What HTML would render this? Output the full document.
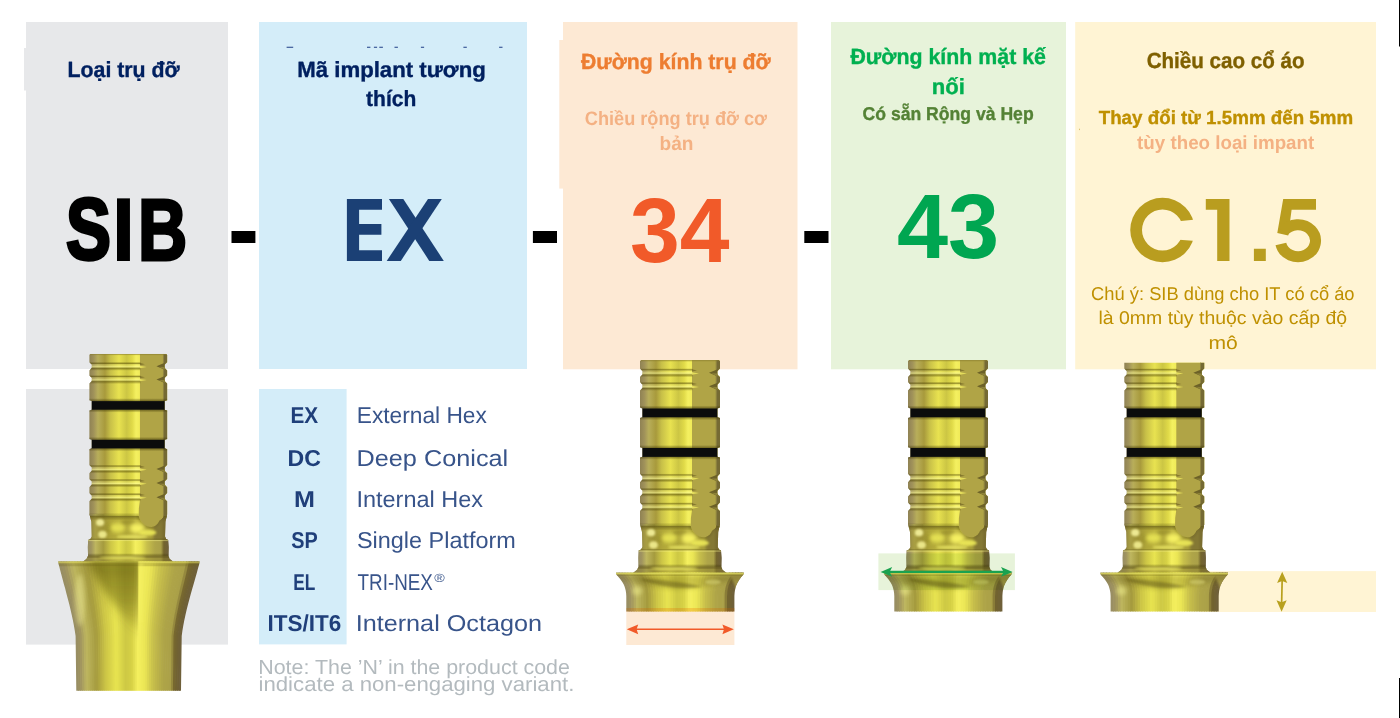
<!DOCTYPE html>
<html><head><meta charset="utf-8"><title>SIB code</title>
<style>
html,body{margin:0;padding:0;background:#fff;}
body{width:1400px;height:718px;position:relative;overflow:hidden;font-family:"Liberation Sans",sans-serif;}
.r{position:absolute;}
.t{position:absolute;white-space:nowrap;line-height:1;transform-origin:0 0;font-family:"Liberation Sans",sans-serif;}
svg{position:absolute;left:0;top:0;}
</style></head><body>

<svg width="1400" height="718" viewBox="0 0 1400 718"><rect x="26" y="22" width="202.00" height="347.00" fill="#e7e8ea"/><rect x="24" y="48" width="2.00" height="42.50" fill="#e7e8ea"/><rect x="26" y="389" width="202.00" height="255.60" fill="#e7e8ea"/><rect x="259" y="22" width="268.00" height="347.00" fill="#d4edf9"/><rect x="259" y="389" width="87.60" height="255.40" fill="#d4edf9"/><rect x="563" y="22" width="234.50" height="347.30" fill="#fde9d4"/><rect x="559.3" y="40" width="3.70" height="148.60" fill="#fde9d4"/><rect x="831" y="22" width="235.00" height="347.30" fill="#e7f3da"/><rect x="1075.2" y="22" width="300.80" height="347.30" fill="#fff4d4"/><rect x="1079" y="128.7" width="1.00" height="1.40" fill="#dcc473"/><rect x="1399" y="0" width="1.00" height="46.50" fill="#000"/><rect x="1399" y="678" width="1.00" height="40.00" fill="#000"/><rect x="231.5" y="231" width="23.90" height="12.00" fill="#000"/><rect x="532.9" y="231" width="24.10" height="12.00" fill="#000"/><rect x="804.3" y="231" width="24.20" height="12.00" fill="#000"/><rect x="286.6" y="46.7" width="6.60" height="1.20" fill="#3c5a98"/><rect x="367" y="46.7" width="3.40" height="1.20" fill="#3c5a98"/><rect x="373.9" y="46.7" width="3.20" height="1.20" fill="#3c5a98"/><rect x="379.3" y="46.7" width="3.60" height="1.20" fill="#3c5a98"/><rect x="394.5" y="46.7" width="3.40" height="1.20" fill="#3c5a98"/><rect x="420.9" y="46.7" width="3.20" height="1.20" fill="#3c5a98"/><rect x="463.4" y="46.7" width="3.40" height="1.20" fill="#3c5a98"/><rect x="499.1" y="46.7" width="3.40" height="1.20" fill="#3c5a98"/></svg>
<svg width="1400" height="718" viewBox="0 0 1400 718"><defs><linearGradient id="gc" gradientUnits="userSpaceOnUse" x1="0" y1="0" x2="80" y2="0"><stop offset="0.000" stop-color="#8f8254"/><stop offset="0.055" stop-color="#a0925a"/><stop offset="0.110" stop-color="#b8ae5a"/><stop offset="0.200" stop-color="#a89a3c"/><stop offset="0.270" stop-color="#c8c048"/><stop offset="0.380" stop-color="#e8e250"/><stop offset="0.480" stop-color="#ccc644"/><stop offset="0.550" stop-color="#e0da48"/><stop offset="0.600" stop-color="#f4f060"/><stop offset="0.650" stop-color="#f0ea58"/></linearGradient><linearGradient id="gr" gradientUnits="userSpaceOnUse" x1="-2" y1="0" x2="82" y2="0"><stop offset="0.000" stop-color="#968c64"/><stop offset="0.045" stop-color="#a0945f"/><stop offset="0.100" stop-color="#beb65f"/><stop offset="0.194" stop-color="#a59b3e"/><stop offset="0.284" stop-color="#cdc646"/><stop offset="0.383" stop-color="#e8e450"/><stop offset="0.473" stop-color="#cdc844"/><stop offset="0.530" stop-color="#d7d246"/><stop offset="0.588" stop-color="#f5f05f"/><stop offset="0.654" stop-color="#ebe655"/><stop offset="0.728" stop-color="#c8c04b"/><stop offset="0.827" stop-color="#afa548"/><stop offset="0.900" stop-color="#aaa048"/><stop offset="0.935" stop-color="#73642d"/><stop offset="1.000" stop-color="#6e5f3c"/></linearGradient><linearGradient id="gg" x1="0" y1="0" x2="0" y2="1"><stop offset="0" stop-color="#4a4000" stop-opacity="0"/><stop offset="0.18" stop-color="#4a4000" stop-opacity="0.55"/><stop offset="0.36" stop-color="#ffffa0" stop-opacity="0.15"/><stop offset="0.55" stop-color="#ffffa0" stop-opacity="0.55"/><stop offset="0.74" stop-color="#4a4000" stop-opacity="0.5"/><stop offset="1" stop-color="#4a4000" stop-opacity="0"/></linearGradient><linearGradient id="gs" x1="0" y1="0" x2="0" y2="1"><stop offset="0" stop-color="#3a3200" stop-opacity="0"/><stop offset="1" stop-color="#3a3200" stop-opacity="0.55"/></linearGradient><linearGradient id="gs2" x1="0" y1="0" x2="0" y2="1"><stop offset="0" stop-color="#3a3200" stop-opacity="0.55"/><stop offset="1" stop-color="#3a3200" stop-opacity="0"/></linearGradient><filter id="b1" x="-30%" y="-30%" width="160%" height="160%"><feGaussianBlur stdDeviation="1.2"/></filter><filter id="b2" x="-30%" y="-30%" width="160%" height="160%"><feGaussianBlur stdDeviation="2.2"/></filter><filter id="b3" x="-50%" y="-50%" width="200%" height="200%"><feGaussianBlur stdDeviation="7"/></filter><filter id="b4" x="-50%" y="-50%" width="200%" height="200%"><feGaussianBlur stdDeviation="4"/></filter><linearGradient id="gw" gradientUnits="userSpaceOnUse" x1="0" y1="560" x2="0" y2="640"><stop offset="0" stop-color="#4a4208" stop-opacity="0.6"/><stop offset="0.5" stop-color="#4a4208" stop-opacity="0.4"/><stop offset="1" stop-color="#4a4208" stop-opacity="0"/></linearGradient><clipPath id="cs"><path d="M78.8 0L80 1.2L80 9.3L80 8.600000000000001L77.4 11.200000000000001L77.4 14.4L80 17.0L80 22.1L77.4 24.7L77.4 27.900000000000002L80 30.5L80 47.6L77.4 48.4L77.4 57.2L80 58L80 87.2L77.4 88L77.4 96.8L80 97.6L80 113.8L77.4 116.4L77.4 119.6L80 122.2L80 128.10000000000002L77.4 130.70000000000002L77.4 133.9L80 136.5L80 142.60000000000002L77.4 145.20000000000002L77.4 148.4L80 151.0L80 164L78.2 172L77.8 187L79 189.5L81 190.5L81.5 198L81.3 206.7L82.5 209.8L86 212.5L86 216L-6.5 216L-6.5 212.5L-3 209.8L-1.4 206.7L-1.6 198L-1.3 190.5L1 189.5L2.4 187L2 172L0 164L0 151.0L2.4 148.4L2.4 145.20000000000002L0 142.60000000000002L0 136.5L2.4 133.9L2.4 130.70000000000002L0 128.10000000000002L0 122.2L2.4 119.6L2.4 116.4L0 113.8L0 97.6L2.4 96.8L2.4 88L0 87.2L0 58L2.4 57.2L2.4 48.4L0 47.6L0 30.5L2.4 27.900000000000002L2.4 24.7L0 22.1L0 17.0L2.4 14.4L2.4 11.200000000000001L0 8.600000000000001L0 9.3L0 1.2L1.2 0Z"/></clipPath><g id="up"><g clip-path="url(#cs)"><rect x="-8" y="0" width="96" height="166" fill="url(#gc)"/><rect x="-8" y="164" width="96" height="54" fill="url(#gr)"/><path d="M52 0H76.7V165C76.5 168 74 169.5 72 171C70.5 175 67 177.5 63.5 177.3C58 177 52.5 173 50.7 166L50.9 158L52 150Z" fill="#b0a446"/><path d="M76.2 0H82V170H78.5L76.2 166Z" fill="#756a34"/><path d="M76.2 0V165" stroke="#8f8440" stroke-width="1" fill="none"/><rect x="-2" y="8.2" width="54.5" height="9.2" fill="url(#gg)"/><path d="M52 12.2L59 13.4L52 14.7Z" fill="#f0ea60" opacity="0.8"/><path d="M52 9.2L57 10.6L52 11.6Z" fill="#6a5e20" opacity="0.6"/><path d="M69 12.8L77.6 9.2V16.4Z" fill="#6c6128"/><path d="M71.5 13.2L77.6 13.4V16.4Z" fill="#8d8238"/><rect x="-2" y="21.7" width="54.5" height="9.2" fill="url(#gg)"/><path d="M52 25.7L59 26.9L52 28.2Z" fill="#f0ea60" opacity="0.8"/><path d="M52 22.7L57 24.1L52 25.1Z" fill="#6a5e20" opacity="0.6"/><path d="M69 26.3L77.6 22.7V29.9Z" fill="#6c6128"/><path d="M71.5 26.7L77.6 26.9V29.9Z" fill="#8d8238"/><rect x="-2" y="113.4" width="54.5" height="9.2" fill="url(#gg)"/><path d="M52 117.4L59 118.6L52 119.9Z" fill="#f0ea60" opacity="0.8"/><path d="M52 114.4L57 115.8L52 116.8Z" fill="#6a5e20" opacity="0.6"/><path d="M69 118.0L77.6 114.4V121.6Z" fill="#6c6128"/><path d="M71.5 118.4L77.6 118.6V121.6Z" fill="#8d8238"/><rect x="-2" y="127.7" width="54.5" height="9.2" fill="url(#gg)"/><path d="M52 131.7L59 132.9L52 134.2Z" fill="#f0ea60" opacity="0.8"/><path d="M52 128.7L57 130.1L52 131.1Z" fill="#6a5e20" opacity="0.6"/><path d="M69 132.3L77.6 128.7V135.9Z" fill="#6c6128"/><path d="M71.5 132.7L77.6 132.9V135.9Z" fill="#8d8238"/><rect x="-2" y="142.2" width="54.5" height="9.2" fill="url(#gg)"/><path d="M52 146.2L59 147.4L52 148.7Z" fill="#f0ea60" opacity="0.8"/><path d="M52 143.2L57 144.6L52 145.6Z" fill="#6a5e20" opacity="0.6"/><path d="M69 146.8L77.6 143.2V150.4Z" fill="#6c6128"/><path d="M71.5 147.2L77.6 147.4V150.4Z" fill="#8d8238"/><rect x="-2" y="0" width="84" height="1.3" fill="#8a7e30" opacity="0.55"/><rect x="-2" y="45.4" width="84" height="3" fill="url(#gs)"/><rect x="-2" y="57.2" width="84" height="3" fill="url(#gs2)"/><rect x="-2" y="48.4" width="84" height="8.9" fill="#0b0c0c"/><rect x="-2" y="85" width="84" height="3" fill="url(#gs)"/><rect x="-2" y="96.8" width="84" height="3" fill="url(#gs2)"/><rect x="-2" y="88" width="84" height="8.9" fill="#0b0c0c"/><rect x="-2" y="162.5" width="52.6" height="3.5" fill="url(#gs)" opacity="0.6"/><clipPath id="cn"><path d="M-4 166H50.7C52.5 173 58 177 63.5 177.3C67 177.5 70.5 175 72 171C74 169.5 76.5 168 76.7 166H84V191H-4Z"/></clipPath><g clip-path="url(#cn)"><rect x="-4" y="166" width="90" height="25" fill="#9a8e30" opacity="0.6"/><rect x="-4" y="166" width="90" height="4.5" fill="url(#gs2)" opacity="0.85"/><path d="M50.7 166C52.5 173 58 177 63.5 177.3C67 177.5 70.5 175 72 171C74 169.5 76.5 168 76.7 166" stroke="#5a5010" stroke-width="2.5" fill="none" opacity="0.35" filter="url(#b1)"/><rect x="66" y="166" width="20" height="25" fill="#6e6230" opacity="0.55" filter="url(#b1)"/><rect x="-4" y="166" width="6" height="25" fill="#6e6230" opacity="0.35" filter="url(#b1)"/><ellipse cx="11" cy="172.7" rx="4.2" ry="3.6" fill="#f2ee98" filter="url(#b1)" opacity="0.95"/><ellipse cx="13.5" cy="185" rx="4.4" ry="3.8" fill="#efea8c" filter="url(#b1)" opacity="0.95"/><ellipse cx="20.5" cy="178.5" rx="3" ry="4" fill="#8c8228" filter="url(#b1)" opacity="0.45"/><ellipse cx="29" cy="178" rx="8" ry="4.6" fill="#e8e455" filter="url(#b2)" opacity="0.95"/><ellipse cx="40" cy="172.5" rx="7" ry="2.6" fill="#8c8228" filter="url(#b1)" opacity="0.4"/><ellipse cx="49" cy="178.6" rx="7.5" ry="5" fill="#f6f162" filter="url(#b2)" opacity="1"/><ellipse cx="60" cy="183" rx="9" ry="3" fill="#ece858" filter="url(#b1)" opacity="0.9"/><ellipse cx="44" cy="187.3" rx="16" ry="1.8" fill="#ece866" filter="url(#b1)" opacity="0.8"/></g><rect x="-3" y="188.5" width="88" height="2" fill="url(#gs)" opacity="0.7"/><rect x="-4" y="190.5" width="90" height="16.2" fill="url(#gr)"/><rect x="-4" y="190.5" width="90" height="1.2" fill="#f4f08a" opacity="0.45"/><rect x="-4" y="204" width="90" height="2.7" fill="url(#gs)" opacity="0.8"/><rect x="-8" y="206.7" width="96" height="11" fill="#8c8030" opacity="0.5"/><rect x="-8" y="206.7" width="96" height="2" fill="#4a4010" opacity="0.35"/><ellipse cx="34" cy="208.5" rx="24" ry="1.6" fill="#e8e460" filter="url(#b1)" opacity="0.8"/></g></g></defs><defs><g id="sc"><path d="M-24.0 212.5L-24.0 213.4L-23.8 214.0L-23.6 214.5L-23.3 215.0L-22.4 216.0L-21.5 217.1L-20.4 218.3L-19.4 219.6L-18.4 221.0L-17.4 222.5L-16.4 224.2L-15.6 226.1L-14.9 228.2L-14.3 230.6L-13.9 233.1L-13.7 236.0L-13.7 251.6L-10.5 251.6L-10.5 236.0L-10.7 233.1L-11.1 230.6L-11.7 228.2L-12.4 226.1L-13.2 224.2L-14.1 222.5L-15.0 221.0L-16.0 219.6L-17.0 218.3L-18.0 217.1L-18.9 216.0L-19.7 215.0L-20.0 214.5L-20.2 214.0L-20.4 213.4L-20.4 212.5Z" fill="#998e63"/><path d="M-21.1 212.5L-21.1 213.4L-20.9 214.0L-20.7 214.5L-20.4 215.0L-19.6 216.0L-18.7 217.1L-17.7 218.3L-16.7 219.6L-15.7 221.0L-14.8 222.5L-13.9 224.2L-13.1 226.1L-12.4 228.2L-11.8 230.6L-11.4 233.1L-11.2 236.0L-11.2 251.6L-8.1 251.6L-8.1 236.0L-8.3 233.1L-8.6 230.6L-9.2 228.2L-9.8 226.1L-10.6 224.2L-11.4 222.5L-12.4 221.0L-13.3 219.6L-14.3 218.3L-15.2 217.1L-16.1 216.0L-16.9 215.0L-17.2 214.5L-17.3 214.0L-17.5 213.4L-17.5 212.5Z" fill="#9e9260"/><path d="M-18.2 212.5L-18.2 213.4L-18.0 214.0L-17.9 214.5L-17.6 215.0L-16.8 216.0L-15.9 217.1L-15.0 218.3L-14.0 219.6L-13.1 221.0L-12.1 222.5L-11.3 224.2L-10.5 226.1L-9.9 228.2L-9.3 230.6L-9.0 233.1L-8.8 236.0L-8.8 251.6L-5.6 251.6L-5.6 236.0L-5.8 233.1L-6.1 230.6L-6.6 228.2L-7.3 226.1L-8.0 224.2L-8.8 222.5L-9.7 221.0L-10.6 219.6L-11.5 218.3L-12.4 217.1L-13.2 216.0L-14.0 215.0L-14.3 214.5L-14.5 214.0L-14.6 213.4L-14.6 212.5Z" fill="#a69b5f"/><path d="M-15.3 212.5L-15.3 213.4L-15.2 214.0L-15.0 214.5L-14.7 215.0L-13.9 216.0L-13.1 217.1L-12.2 218.3L-11.3 219.6L-10.4 221.0L-9.5 222.5L-8.7 224.2L-8.0 226.1L-7.3 228.2L-6.8 230.6L-6.5 233.1L-6.3 236.0L-6.3 251.6L-3.2 251.6L-3.2 236.0L-3.3 233.1L-3.7 230.6L-4.1 228.2L-4.7 226.1L-5.4 224.2L-6.2 222.5L-7.1 221.0L-7.9 219.6L-8.8 218.3L-9.6 217.1L-10.4 216.0L-11.1 215.0L-11.4 214.5L-11.6 214.0L-11.7 213.4L-11.7 212.5Z" fill="#b3a95f"/><path d="M-12.4 212.5L-12.4 213.4L-12.3 214.0L-12.1 214.5L-11.8 215.0L-11.1 216.0L-10.3 217.1L-9.5 218.3L-8.6 219.6L-7.8 221.0L-6.9 222.5L-6.1 224.2L-5.4 226.1L-4.8 228.2L-4.4 230.6L-4.0 233.1L-3.9 236.0L-3.9 251.6L-0.7 251.6L-0.7 236.0L-0.9 233.1L-1.2 230.6L-1.6 228.2L-2.2 226.1L-2.9 224.2L-3.6 222.5L-4.4 221.0L-5.2 219.6L-6.0 218.3L-6.8 217.1L-7.6 216.0L-8.2 215.0L-8.5 214.5L-8.7 214.0L-8.8 213.4L-8.8 212.5Z" fill="#bdb55e"/><path d="M-9.5 212.5L-9.5 213.4L-9.4 214.0L-9.2 214.5L-8.9 215.0L-8.3 216.0L-7.5 217.1L-6.7 218.3L-5.9 219.6L-5.1 221.0L-4.3 222.5L-3.6 224.2L-2.9 226.1L-2.3 228.2L-1.9 230.6L-1.6 233.1L-1.4 236.0L-1.4 251.6L1.7 251.6L1.7 236.0L1.6 233.1L1.3 230.6L0.9 228.2L0.3 226.1L-0.3 224.2L-1.0 222.5L-1.7 221.0L-2.5 219.6L-3.3 218.3L-4.0 217.1L-4.7 216.0L-5.4 215.0L-5.6 214.5L-5.8 214.0L-5.9 213.4L-5.9 212.5Z" fill="#b7af56"/><path d="M-6.6 212.5L-6.6 213.4L-6.5 214.0L-6.3 214.5L-6.1 215.0L-5.4 216.0L-4.7 217.1L-4.0 218.3L-3.2 219.6L-2.4 221.0L-1.7 222.5L-1.0 224.2L-0.4 226.1L0.2 228.2L0.6 230.6L0.9 233.1L1.0 236.0L1.0 251.6L4.2 251.6L4.2 236.0L4.1 233.1L3.8 230.6L3.4 228.2L2.9 226.1L2.3 224.2L1.6 222.5L0.9 221.0L0.2 219.6L-0.5 218.3L-1.2 217.1L-1.9 216.0L-2.5 215.0L-2.7 214.5L-2.9 214.0L-3.0 213.4L-3.0 212.5Z" fill="#b1a84e"/><path d="M-3.7 212.5L-3.7 213.4L-3.6 214.0L-3.4 214.5L-3.2 215.0L-2.6 216.0L-1.9 217.1L-1.2 218.3L-0.5 219.6L0.2 221.0L0.9 222.5L1.6 224.2L2.2 226.1L2.7 228.2L3.1 230.6L3.4 233.1L3.5 236.0L3.5 251.6L6.7 251.6L6.7 236.0L6.5 233.1L6.3 230.6L5.9 228.2L5.4 226.1L4.8 224.2L4.2 222.5L3.6 221.0L2.9 219.6L2.2 218.3L1.5 217.1L0.9 216.0L0.4 215.0L0.2 214.5L0.0 214.0L-0.1 213.4L-0.1 212.5Z" fill="#aba246"/><path d="M-0.8 212.5L-0.8 213.4L-0.7 214.0L-0.5 214.5L-0.3 215.0L0.2 216.0L0.8 217.1L1.5 218.3L2.2 219.6L2.9 221.0L3.5 222.5L4.1 224.2L4.7 226.1L5.2 228.2L5.6 230.6L5.8 233.1L6.0 236.0L6.0 251.6L9.1 251.6L9.1 236.0L9.0 233.1L8.7 230.6L8.4 228.2L7.9 226.1L7.4 224.2L6.8 222.5L6.2 221.0L5.6 219.6L5.0 218.3L4.3 217.1L3.8 216.0L3.2 215.0L3.0 214.5L2.9 214.0L2.8 213.4L2.8 212.5Z" fill="#a59b3e"/><path d="M2.1 212.5L2.1 213.4L2.2 214.0L2.3 214.5L2.5 215.0L3.1 216.0L3.6 217.1L4.3 218.3L4.9 219.6L5.5 221.0L6.1 222.5L6.7 224.2L7.2 226.1L7.7 228.2L8.0 230.6L8.3 233.1L8.4 236.0L8.4 251.6L11.6 251.6L11.6 236.0L11.5 233.1L11.2 230.6L10.9 228.2L10.5 226.1L10.0 224.2L9.4 222.5L8.9 221.0L8.3 219.6L7.7 218.3L7.1 217.1L6.6 216.0L6.1 215.0L5.9 214.5L5.8 214.0L5.7 213.4L5.7 212.5Z" fill="#afa540"/><path d="M5.0 212.5L5.0 213.4L5.1 214.0L5.2 214.5L5.4 215.0L5.9 216.0L6.4 217.1L7.0 218.3L7.6 219.6L8.2 221.0L8.8 222.5L9.3 224.2L9.8 226.1L10.2 228.2L10.5 230.6L10.8 233.1L10.9 236.0L10.9 251.6L14.0 251.6L14.0 236.0L13.9 233.1L13.7 230.6L13.4 228.2L13.0 226.1L12.6 224.2L12.1 222.5L11.5 221.0L11.0 219.6L10.4 218.3L9.9 217.1L9.4 216.0L9.0 215.0L8.8 214.5L8.7 214.0L8.6 213.4L8.6 212.5Z" fill="#b9b042"/><path d="M7.9 212.5L7.9 213.4L8.0 214.0L8.1 214.5L8.3 215.0L8.7 216.0L9.2 217.1L9.7 218.3L10.3 219.6L10.8 221.0L11.4 222.5L11.9 224.2L12.3 226.1L12.7 228.2L13.0 230.6L13.2 233.1L13.3 236.0L13.3 251.6L16.5 251.6L16.5 236.0L16.4 233.1L16.2 230.6L15.9 228.2L15.6 226.1L15.1 224.2L14.7 222.5L14.2 221.0L13.7 219.6L13.2 218.3L12.7 217.1L12.2 216.0L11.8 215.0L11.7 214.5L11.6 214.0L11.5 213.4L11.5 212.5Z" fill="#c3bb44"/><path d="M10.8 212.5L10.8 213.4L10.9 214.0L11.0 214.5L11.1 215.0L11.5 216.0L12.0 217.1L12.5 218.3L13.0 219.6L13.5 221.0L14.0 222.5L14.4 224.2L14.9 226.1L15.2 228.2L15.5 230.6L15.7 233.1L15.8 236.0L15.8 251.6L18.9 251.6L18.9 236.0L18.9 233.1L18.7 230.6L18.4 228.2L18.1 226.1L17.7 224.2L17.3 222.5L16.8 221.0L16.4 219.6L15.9 218.3L15.5 217.1L15.1 216.0L14.7 215.0L14.6 214.5L14.5 214.0L14.4 213.4L14.4 212.5Z" fill="#cdc646"/><path d="M13.7 212.5L13.7 213.4L13.8 214.0L13.9 214.5L14.0 215.0L14.4 216.0L14.8 217.1L15.2 218.3L15.7 219.6L16.1 221.0L16.6 222.5L17.0 224.2L17.4 226.1L17.7 228.2L18.0 230.6L18.2 233.1L18.2 236.0L18.2 251.6L21.4 251.6L21.4 236.0L21.3 233.1L21.2 230.6L20.9 228.2L20.6 226.1L20.3 224.2L19.9 222.5L19.5 221.0L19.1 219.6L18.7 218.3L18.3 217.1L17.9 216.0L17.6 215.0L17.5 214.5L17.4 214.0L17.3 213.4L17.3 212.5Z" fill="#d3cd48"/><path d="M16.6 212.5L16.6 213.4L16.7 214.0L16.8 214.5L16.9 215.0L17.2 216.0L17.6 217.1L18.0 218.3L18.4 219.6L18.8 221.0L19.2 222.5L19.6 224.2L19.9 226.1L20.2 228.2L20.5 230.6L20.6 233.1L20.7 236.0L20.7 251.6L23.9 251.6L23.9 236.0L23.8 233.1L23.6 230.6L23.4 228.2L23.2 226.1L22.9 224.2L22.5 222.5L22.2 221.0L21.8 219.6L21.4 218.3L21.1 217.1L20.7 216.0L20.5 215.0L20.4 214.5L20.3 214.0L20.2 213.4L20.2 212.5Z" fill="#d9d44b"/><path d="M19.5 212.5L19.5 213.4L19.6 214.0L19.7 214.5L19.8 215.0L20.0 216.0L20.4 217.1L20.7 218.3L21.1 219.6L21.5 221.0L21.8 222.5L22.2 224.2L22.5 226.1L22.7 228.2L22.9 230.6L23.1 233.1L23.2 236.0L23.2 251.6L26.3 251.6L26.3 236.0L26.3 233.1L26.1 230.6L25.9 228.2L25.7 226.1L25.4 224.2L25.1 222.5L24.8 221.0L24.5 219.6L24.2 218.3L23.9 217.1L23.6 216.0L23.3 215.0L23.2 214.5L23.2 214.0L23.1 213.4L23.1 212.5Z" fill="#e0db4d"/><path d="M22.4 212.5L22.4 213.4L22.5 214.0L22.5 214.5L22.6 215.0L22.9 216.0L23.2 217.1L23.5 218.3L23.8 219.6L24.1 221.0L24.4 222.5L24.7 224.2L25.0 226.1L25.2 228.2L25.4 230.6L25.6 233.1L25.6 236.0L25.6 251.6L28.8 251.6L28.8 236.0L28.7 233.1L28.6 230.6L28.4 228.2L28.2 226.1L28.0 224.2L27.7 222.5L27.5 221.0L27.2 219.6L26.9 218.3L26.6 217.1L26.4 216.0L26.2 215.0L26.1 214.5L26.1 214.0L26.0 213.4L26.0 212.5Z" fill="#e6e24f"/><path d="M25.3 212.5L25.3 213.4L25.4 214.0L25.4 214.5L25.5 215.0L25.7 216.0L25.9 217.1L26.2 218.3L26.5 219.6L26.8 221.0L27.0 222.5L27.3 224.2L27.5 226.1L27.7 228.2L27.9 230.6L28.0 233.1L28.1 236.0L28.1 251.6L31.2 251.6L31.2 236.0L31.2 233.1L31.1 230.6L30.9 228.2L30.8 226.1L30.6 224.2L30.4 222.5L30.1 221.0L29.9 219.6L29.7 218.3L29.4 217.1L29.2 216.0L29.1 215.0L29.0 214.5L29.0 214.0L28.9 213.4L28.9 212.5Z" fill="#e4df4e"/><path d="M28.2 212.5L28.2 213.4L28.3 214.0L28.3 214.5L28.4 215.0L28.5 216.0L28.7 217.1L29.0 218.3L29.2 219.6L29.4 221.0L29.7 222.5L29.9 224.2L30.1 226.1L30.2 228.2L30.4 230.6L30.5 233.1L30.5 236.0L30.5 251.6L33.7 251.6L33.7 236.0L33.6 233.1L33.6 230.6L33.5 228.2L33.3 226.1L33.1 224.2L33.0 222.5L32.8 221.0L32.6 219.6L32.4 218.3L32.2 217.1L32.1 216.0L31.9 215.0L31.9 214.5L31.9 214.0L31.8 213.4L31.8 212.5Z" fill="#ddd84b"/><path d="M31.1 212.5L31.1 213.4L31.2 214.0L31.2 214.5L31.2 215.0L31.4 216.0L31.5 217.1L31.7 218.3L31.9 219.6L32.1 221.0L32.3 222.5L32.4 224.2L32.6 226.1L32.8 228.2L32.9 230.6L32.9 233.1L33.0 236.0L33.0 251.6L36.1 251.6L36.1 236.0L36.1 233.1L36.0 230.6L36.0 228.2L35.8 226.1L35.7 224.2L35.6 222.5L35.4 221.0L35.3 219.6L35.1 218.3L35.0 217.1L34.9 216.0L34.8 215.0L34.8 214.5L34.8 214.0L34.7 213.4L34.7 212.5Z" fill="#d6d148"/><path d="M34.0 212.5L34.0 213.4L34.1 214.0L34.1 214.5L34.1 215.0L34.2 216.0L34.3 217.1L34.4 218.3L34.6 219.6L34.7 221.0L34.9 222.5L35.0 224.2L35.1 226.1L35.3 228.2L35.3 230.6L35.4 233.1L35.4 236.0L35.4 251.6L38.6 251.6L38.6 236.0L38.6 233.1L38.5 230.6L38.5 228.2L38.4 226.1L38.3 224.2L38.2 222.5L38.1 221.0L38.0 219.6L37.9 218.3L37.8 217.1L37.7 216.0L37.7 215.0L37.7 214.5L37.7 214.0L37.6 213.4L37.6 212.5Z" fill="#cfca45"/><path d="M36.9 212.5L36.9 213.4L37.0 214.0L37.0 214.5L37.0 215.0L37.0 216.0L37.1 217.1L37.2 218.3L37.3 219.6L37.4 221.0L37.5 222.5L37.6 224.2L37.7 226.1L37.8 228.2L37.8 230.6L37.9 233.1L37.9 236.0L37.9 251.6L41.1 251.6L41.1 236.0L41.0 233.1L41.0 230.6L41.0 228.2L40.9 226.1L40.9 224.2L40.8 222.5L40.7 221.0L40.7 219.6L40.6 218.3L40.6 217.1L40.6 216.0L40.5 215.0L40.5 214.5L40.5 214.0L40.6 213.4L40.6 212.5Z" fill="#d0cb45"/><path d="M39.9 212.5L39.9 213.4L39.8 214.0L39.8 214.5L39.8 215.0L39.9 216.0L39.9 217.1L39.9 218.3L40.0 219.6L40.0 221.0L40.1 222.5L40.2 224.2L40.2 226.1L40.3 228.2L40.3 230.6L40.3 233.1L40.4 236.0L40.4 251.6L43.5 251.6L43.5 236.0L43.5 233.1L43.5 230.6L43.5 228.2L43.5 226.1L43.4 224.2L43.4 222.5L43.4 221.0L43.4 219.6L43.4 218.3L43.4 217.1L43.4 216.0L43.4 215.0L43.4 214.5L43.4 214.0L43.5 213.4L43.5 212.5Z" fill="#d4cf45"/><path d="M42.8 212.5L42.8 213.4L42.7 214.0L42.7 214.5L42.7 215.0L42.7 216.0L42.7 217.1L42.7 218.3L42.7 219.6L42.7 221.0L42.7 222.5L42.7 224.2L42.8 226.1L42.8 228.2L42.8 230.6L42.8 233.1L42.8 236.0L42.8 251.6L46.0 251.6L46.0 236.0L46.0 233.1L46.0 230.6L46.0 228.2L46.0 226.1L46.0 224.2L46.0 222.5L46.0 221.0L46.1 219.6L46.1 218.3L46.2 217.1L46.2 216.0L46.3 215.0L46.3 214.5L46.3 214.0L46.4 213.4L46.4 212.5Z" fill="#d9d448"/><path d="M45.7 212.5L45.7 213.4L45.6 214.0L45.6 214.5L45.6 215.0L45.5 216.0L45.5 217.1L45.4 218.3L45.4 219.6L45.3 221.0L45.3 222.5L45.3 224.2L45.3 226.1L45.3 228.2L45.3 230.6L45.3 233.1L45.3 236.0L45.3 251.6L48.4 251.6L48.4 236.0L48.4 233.1L48.5 230.6L48.5 228.2L48.5 226.1L48.6 224.2L48.6 222.5L48.7 221.0L48.8 219.6L48.9 218.3L49.0 217.1L49.1 216.0L49.2 215.0L49.2 214.5L49.2 214.0L49.3 213.4L49.3 212.5Z" fill="#e5e052"/><path d="M48.6 212.5L48.6 213.4L48.5 214.0L48.5 214.5L48.5 215.0L48.4 216.0L48.3 217.1L48.2 218.3L48.1 219.6L48.0 221.0L47.9 222.5L47.9 224.2L47.8 226.1L47.8 228.2L47.8 230.6L47.7 233.1L47.7 236.0L47.7 251.6L50.9 251.6L50.9 236.0L50.9 233.1L50.9 230.6L51.0 228.2L51.1 226.1L51.2 224.2L51.3 222.5L51.4 221.0L51.5 219.6L51.6 218.3L51.7 217.1L51.9 216.0L52.0 215.0L52.1 214.5L52.1 214.0L52.2 213.4L52.2 212.5Z" fill="#f1ec5b"/><path d="M51.5 212.5L51.5 213.4L51.4 214.0L51.4 214.5L51.3 215.0L51.2 216.0L51.0 217.1L50.9 218.3L50.8 219.6L50.7 221.0L50.6 222.5L50.5 224.2L50.4 226.1L50.3 228.2L50.2 230.6L50.2 233.1L50.2 236.0L50.2 251.6L53.3 251.6L53.3 236.0L53.4 233.1L53.4 230.6L53.5 228.2L53.6 226.1L53.7 224.2L53.9 222.5L54.0 221.0L54.2 219.6L54.4 218.3L54.5 217.1L54.7 216.0L54.9 215.0L55.0 214.5L55.0 214.0L55.1 213.4L55.1 212.5Z" fill="#f3ee5d"/><path d="M54.4 212.5L54.4 213.4L54.3 214.0L54.3 214.5L54.2 215.0L54.0 216.0L53.8 217.1L53.7 218.3L53.5 219.6L53.3 221.0L53.2 222.5L53.0 224.2L52.9 226.1L52.8 228.2L52.7 230.6L52.7 233.1L52.6 236.0L52.6 251.6L55.8 251.6L55.8 236.0L55.8 233.1L55.9 230.6L56.0 228.2L56.1 226.1L56.3 224.2L56.5 222.5L56.7 221.0L56.9 219.6L57.1 218.3L57.3 217.1L57.5 216.0L57.8 215.0L57.9 214.5L57.9 214.0L58.0 213.4L58.0 212.5Z" fill="#efea59"/><path d="M57.3 212.5L57.3 213.4L57.2 214.0L57.2 214.5L57.1 215.0L56.8 216.0L56.6 217.1L56.4 218.3L56.2 219.6L56.0 221.0L55.8 222.5L55.6 224.2L55.4 226.1L55.3 228.2L55.2 230.6L55.1 233.1L55.1 236.0L55.1 251.6L58.2 251.6L58.2 236.0L58.3 233.1L58.4 230.6L58.5 228.2L58.7 226.1L58.9 224.2L59.1 222.5L59.3 221.0L59.6 219.6L59.8 218.3L60.1 217.1L60.4 216.0L60.6 215.0L60.7 214.5L60.8 214.0L60.9 213.4L60.9 212.5Z" fill="#ece756"/><path d="M60.2 212.5L60.2 213.4L60.1 214.0L60.0 214.5L59.9 215.0L59.7 216.0L59.4 217.1L59.1 218.3L58.9 219.6L58.6 221.0L58.4 222.5L58.2 224.2L58.0 226.1L57.8 228.2L57.7 230.6L57.6 233.1L57.5 236.0L57.5 251.6L60.7 251.6L60.7 236.0L60.8 233.1L60.9 230.6L61.0 228.2L61.2 226.1L61.4 224.2L61.7 222.5L62.0 221.0L62.3 219.6L62.6 218.3L62.9 217.1L63.2 216.0L63.5 215.0L63.6 214.5L63.7 214.0L63.8 213.4L63.8 212.5Z" fill="#e3de53"/><path d="M63.1 212.5L63.1 213.4L63.0 214.0L62.9 214.5L62.8 215.0L62.5 216.0L62.2 217.1L61.9 218.3L61.6 219.6L61.3 221.0L61.0 222.5L60.7 224.2L60.5 226.1L60.3 228.2L60.2 230.6L60.1 233.1L60.0 236.0L60.0 251.6L63.2 251.6L63.2 236.0L63.2 233.1L63.3 230.6L63.5 228.2L63.8 226.1L64.0 224.2L64.3 222.5L64.6 221.0L65.0 219.6L65.3 218.3L65.7 217.1L66.0 216.0L66.4 215.0L66.5 214.5L66.6 214.0L66.7 213.4L66.7 212.5Z" fill="#d8d250"/><path d="M66.0 212.5L66.0 213.4L65.9 214.0L65.8 214.5L65.7 215.0L65.3 216.0L65.0 217.1L64.6 218.3L64.3 219.6L63.9 221.0L63.6 222.5L63.3 224.2L63.1 226.1L62.8 228.2L62.6 230.6L62.5 233.1L62.5 236.0L62.5 251.6L65.6 251.6L65.6 236.0L65.7 233.1L65.8 230.6L66.0 228.2L66.3 226.1L66.6 224.2L66.9 222.5L67.3 221.0L67.7 219.6L68.1 218.3L68.5 217.1L68.9 216.0L69.3 215.0L69.4 214.5L69.5 214.0L69.6 213.4L69.6 212.5Z" fill="#cec64d"/><path d="M68.9 212.5L68.9 213.4L68.8 214.0L68.7 214.5L68.6 215.0L68.2 216.0L67.8 217.1L67.4 218.3L67.0 219.6L66.6 221.0L66.2 222.5L65.9 224.2L65.6 226.1L65.3 228.2L65.1 230.6L65.0 233.1L64.9 236.0L64.9 251.6L68.1 251.6L68.1 236.0L68.2 233.1L68.3 230.6L68.5 228.2L68.8 226.1L69.2 224.2L69.5 222.5L69.9 221.0L70.4 219.6L70.8 218.3L71.3 217.1L71.7 216.0L72.1 215.0L72.3 214.5L72.4 214.0L72.5 213.4L72.5 212.5Z" fill="#c5bd4b"/><path d="M71.8 212.5L71.8 213.4L71.7 214.0L71.6 214.5L71.4 215.0L71.0 216.0L70.6 217.1L70.1 218.3L69.7 219.6L69.2 221.0L68.8 222.5L68.5 224.2L68.1 226.1L67.8 228.2L67.6 230.6L67.5 233.1L67.4 236.0L67.4 251.6L70.5 251.6L70.5 236.0L70.6 233.1L70.8 230.6L71.0 228.2L71.4 226.1L71.7 224.2L72.2 222.5L72.6 221.0L73.1 219.6L73.6 218.3L74.1 217.1L74.5 216.0L75.0 215.0L75.2 214.5L75.3 214.0L75.4 213.4L75.4 212.5Z" fill="#c0b74a"/><path d="M74.7 212.5L74.7 213.4L74.6 214.0L74.5 214.5L74.3 215.0L73.8 216.0L73.4 217.1L72.9 218.3L72.4 219.6L71.9 221.0L71.5 222.5L71.0 224.2L70.7 226.1L70.3 228.2L70.1 230.6L69.9 233.1L69.8 236.0L69.8 251.6L73.0 251.6L73.0 236.0L73.1 233.1L73.3 230.6L73.6 228.2L73.9 226.1L74.3 224.2L74.8 222.5L75.3 221.0L75.8 219.6L76.3 218.3L76.8 217.1L77.4 216.0L77.9 215.0L78.1 214.5L78.2 214.0L78.3 213.4L78.3 212.5Z" fill="#bab149"/><path d="M77.6 212.5L77.6 213.4L77.5 214.0L77.4 214.5L77.2 215.0L76.7 216.0L76.1 217.1L75.6 218.3L75.1 219.6L74.6 221.0L74.1 222.5L73.6 224.2L73.2 226.1L72.9 228.2L72.6 230.6L72.4 233.1L72.3 236.0L72.3 251.6L75.4 251.6L75.4 236.0L75.5 233.1L75.8 230.6L76.1 228.2L76.4 226.1L76.9 224.2L77.4 222.5L77.9 221.0L78.5 219.6L79.1 218.3L79.6 217.1L80.2 216.0L80.7 215.0L80.9 214.5L81.1 214.0L81.2 213.4L81.2 212.5Z" fill="#b4ab49"/><path d="M80.5 212.5L80.5 213.4L80.4 214.0L80.2 214.5L80.0 215.0L79.5 216.0L78.9 217.1L78.4 218.3L77.8 219.6L77.2 221.0L76.7 222.5L76.2 224.2L75.7 226.1L75.4 228.2L75.1 230.6L74.8 233.1L74.7 236.0L74.7 251.6L77.9 251.6L77.9 236.0L78.0 233.1L78.2 230.6L78.6 228.2L79.0 226.1L79.5 224.2L80.0 222.5L80.6 221.0L81.2 219.6L81.8 218.3L82.4 217.1L83.0 216.0L83.6 215.0L83.8 214.5L84.0 214.0L84.1 213.4L84.1 212.5Z" fill="#afa548"/><path d="M83.4 212.5L83.4 213.4L83.3 214.0L83.1 214.5L82.9 215.0L82.3 216.0L81.7 217.1L81.1 218.3L80.5 219.6L79.9 221.0L79.3 222.5L78.8 224.2L78.3 226.1L77.9 228.2L77.5 230.6L77.3 233.1L77.2 236.0L77.2 251.6L80.4 251.6L80.4 236.0L80.5 233.1L80.7 230.6L81.1 228.2L81.5 226.1L82.0 224.2L82.6 222.5L83.2 221.0L83.9 219.6L84.5 218.3L85.2 217.1L85.9 216.0L86.5 215.0L86.7 214.5L86.9 214.0L87.0 213.4L87.0 212.5Z" fill="#ada348"/><path d="M86.3 212.5L86.3 213.4L86.2 214.0L86.0 214.5L85.8 215.0L85.2 216.0L84.5 217.1L83.8 218.3L83.2 219.6L82.5 221.0L81.9 222.5L81.3 224.2L80.8 226.1L80.4 228.2L80.0 230.6L79.8 233.1L79.7 236.0L79.7 251.6L82.8 251.6L82.8 236.0L82.9 233.1L83.2 230.6L83.6 228.2L84.0 226.1L84.6 224.2L85.2 222.5L85.9 221.0L86.6 219.6L87.3 218.3L88.0 217.1L88.7 216.0L89.3 215.0L89.6 214.5L89.8 214.0L89.9 213.4L89.9 212.5Z" fill="#aca248"/><path d="M89.2 212.5L89.2 213.4L89.1 214.0L88.9 214.5L88.6 215.0L88.0 216.0L87.3 217.1L86.6 218.3L85.9 219.6L85.2 221.0L84.5 222.5L83.9 224.2L83.3 226.1L82.9 228.2L82.5 230.6L82.2 233.1L82.1 236.0L82.1 251.6L85.3 251.6L85.3 236.0L85.4 233.1L85.7 230.6L86.1 228.2L86.6 226.1L87.2 224.2L87.8 222.5L88.5 221.0L89.3 219.6L90.0 218.3L90.8 217.1L91.5 216.0L92.2 215.0L92.5 214.5L92.7 214.0L92.8 213.4L92.8 212.5Z" fill="#aaa048"/><path d="M92.1 212.5L92.1 213.4L92.0 214.0L91.8 214.5L91.5 215.0L90.8 216.0L90.1 217.1L89.3 218.3L88.6 219.6L87.8 221.0L87.1 222.5L86.5 224.2L85.9 226.1L85.4 228.2L85.0 230.6L84.7 233.1L84.6 236.0L84.6 251.6L87.7 251.6L87.7 236.0L87.9 233.1L88.2 230.6L88.6 228.2L89.1 226.1L89.7 224.2L90.4 222.5L91.2 221.0L92.0 219.6L92.8 218.3L93.6 217.1L94.4 216.0L95.1 215.0L95.4 214.5L95.6 214.0L95.7 213.4L95.7 212.5Z" fill="#8a7d38"/><path d="M95.0 212.5L95.0 213.4L94.9 214.0L94.7 214.5L94.4 215.0L93.7 216.0L92.9 217.1L92.1 218.3L91.3 219.6L90.5 221.0L89.7 222.5L89.0 224.2L88.4 226.1L87.9 228.2L87.5 230.6L87.2 233.1L87.0 236.0L87.0 251.6L90.2 251.6L90.2 236.0L90.3 233.1L90.6 230.6L91.1 228.2L91.7 226.1L92.3 224.2L93.1 222.5L93.8 221.0L94.7 219.6L95.5 218.3L96.4 217.1L97.2 216.0L98.0 215.0L98.3 214.5L98.4 214.0L98.6 213.4L98.6 212.5Z" fill="#72632f"/><path d="M97.9 212.5L97.9 213.4L97.7 214.0L97.6 214.5L97.3 215.0L96.5 216.0L95.7 217.1L94.8 218.3L94.0 219.6L93.1 221.0L92.4 222.5L91.6 224.2L91.0 226.1L90.4 228.2L89.9 230.6L89.6 233.1L89.5 236.0L89.5 251.6L92.6 251.6L92.6 236.0L92.8 233.1L93.1 230.6L93.6 228.2L94.2 226.1L94.9 224.2L95.7 222.5L96.5 221.0L97.4 219.6L98.3 218.3L99.1 217.1L100.0 216.0L100.8 215.0L101.1 214.5L101.3 214.0L101.5 213.4L101.5 212.5Z" fill="#716234"/><path d="M100.8 212.5L100.8 213.4L100.6 214.0L100.4 214.5L100.1 215.0L99.3 216.0L98.4 217.1L97.6 218.3L96.7 219.6L95.8 221.0L95.0 222.5L94.2 224.2L93.5 226.1L92.9 228.2L92.4 230.6L92.1 233.1L91.9 236.0L91.9 251.6L94.4 251.6L94.4 236.0L94.6 233.1L94.9 230.6L95.4 228.2L96.0 226.1L96.8 224.2L97.6 222.5L98.5 221.0L99.4 219.6L100.3 218.3L101.2 217.1L102.1 216.0L103.0 215.0L103.3 214.5L103.5 214.0L103.7 213.4L103.7 212.5Z" fill="#6f6039"/><clipPath id="cc"><path d="M-24.0 212.5L-24.0 213.4L-23.8 214.0L-23.6 214.5L-23.3 215.0L-22.4 216.0L-21.5 217.1L-20.4 218.3L-19.4 219.6L-18.4 221.0L-17.4 222.5L-16.4 224.2L-15.6 226.1L-14.9 228.2L-14.3 230.6L-13.9 233.1L-13.7 236.0L-13.7 251.6L94.4 251.6L94.4 236.0L94.6 233.1L94.9 230.6L95.4 228.2L96.0 226.1L96.8 224.2L97.6 222.5L98.5 221.0L99.4 219.6L100.3 218.3L101.2 217.1L102.1 216.0L103.0 215.0L103.3 214.5L103.5 214.0L103.7 213.4L103.7 212.5Z"/></clipPath><g clip-path="url(#cc)"><path d="M88 212H106V230L96 230C95 223 91 218 88 212Z" fill="#a89c48" opacity="0.9" filter="url(#b1)"/><rect x="-26" y="212.5" width="132" height="2" fill="#e2de62" opacity="0.8"/><rect x="-26" y="214.5" width="132" height="1.3" fill="#6a5e18" opacity="0.3"/><path d="M-26 215.5H106V219C80 221 60 231 30 229C10 227 -5 222 -26 219Z" fill="#5a5010" opacity="0.26" filter="url(#b2)"/><path d="M0 219C22 219 45 223 62 226.5C50 229.5 20 228 0 219Z" fill="#4a4008" opacity="0.36" filter="url(#b1)"/><ellipse cx="-3" cy="231" rx="5" ry="4.2" fill="#ecea8a" opacity="0.6" filter="url(#b2)"/><ellipse cx="73" cy="222" rx="8" ry="2.6" fill="#dcd878" opacity="0.55" filter="url(#b1)"/></g></g><clipPath id="c4"><rect x="-30" y="2.7" width="140" height="260"/></clipPath></defs><g transform="translate(89.4,353.8) scale(0.972,0.977)"><use href="#up"/></g><path d="M58.2 561.2L58.3 562.4L58.5 563.5L58.7 564.4L59.0 565.5L60.0 569.6L61.2 574.0L62.4 578.6L63.7 583.4L65.1 588.3L66.4 593.5L67.8 598.7L69.2 604.0L70.5 609.4L71.7 614.8L72.9 620.2L73.9 625.5L74.8 630.8L75.6 636.0L76.3 690.8L79.0 690.8L78.3 636.0L77.6 630.8L76.7 625.5L75.7 620.2L74.6 614.8L73.4 609.4L72.2 604.0L70.9 598.7L69.5 593.5L68.2 588.3L66.9 583.4L65.7 578.6L64.5 574.0L63.4 569.6L62.4 565.5L62.1 564.4L61.9 563.5L61.7 562.4L61.6 561.2Z" fill="#988e63"/><path d="M60.9 561.2L61.0 562.4L61.2 563.5L61.4 564.4L61.7 565.5L62.7 569.6L63.8 574.0L65.0 578.6L66.2 583.4L67.5 588.3L68.8 593.5L70.2 598.7L71.5 604.0L72.7 609.4L73.9 614.8L75.0 620.2L76.0 625.5L76.9 630.8L77.6 636.0L78.3 690.8L81.0 690.8L80.4 636.0L79.7 630.8L78.8 625.5L77.9 620.2L76.8 614.8L75.7 609.4L74.5 604.0L73.2 598.7L71.9 593.5L70.7 588.3L69.4 583.4L68.2 578.6L67.1 574.0L66.0 569.6L65.1 565.5L64.8 564.4L64.6 563.5L64.4 562.4L64.3 561.2Z" fill="#9c9161"/><path d="M63.6 561.2L63.7 562.4L63.9 563.5L64.1 564.4L64.4 565.5L65.3 569.6L66.4 574.0L67.5 578.6L68.7 583.4L70.0 588.3L71.2 593.5L72.5 598.7L73.8 604.0L75.0 609.4L76.1 614.8L77.2 620.2L78.1 625.5L79.0 630.8L79.7 636.0L80.3 690.8L83.0 690.8L82.4 636.0L81.8 630.8L80.9 625.5L80.0 620.2L79.0 614.8L77.9 609.4L76.7 604.0L75.5 598.7L74.3 593.5L73.1 588.3L71.9 583.4L70.8 578.6L69.7 574.0L68.7 569.6L67.8 565.5L67.5 564.4L67.3 563.5L67.1 562.4L67.1 561.2Z" fill="#a2965f"/><path d="M66.4 561.2L66.4 562.4L66.6 563.5L66.8 564.4L67.1 565.5L68.0 569.6L69.0 574.0L70.1 578.6L71.2 583.4L72.4 588.3L73.6 593.5L74.8 598.7L76.0 604.0L77.2 609.4L78.3 614.8L79.3 620.2L80.2 625.5L81.1 630.8L81.7 636.0L82.3 690.8L85.1 690.8L84.5 636.0L83.8 630.8L83.1 625.5L82.2 620.2L81.2 614.8L80.1 609.4L79.0 604.0L77.9 598.7L76.7 593.5L75.6 588.3L74.4 583.4L73.3 578.6L72.3 574.0L71.3 569.6L70.5 565.5L70.2 564.4L70.0 563.5L69.8 562.4L69.8 561.2Z" fill="#aca25f"/><path d="M69.1 561.2L69.1 562.4L69.3 563.5L69.5 564.4L69.8 565.5L70.6 569.6L71.6 574.0L72.6 578.6L73.7 583.4L74.9 588.3L76.0 593.5L77.2 598.7L78.3 604.0L79.4 609.4L80.5 614.8L81.5 620.2L82.4 625.5L83.1 630.8L83.8 636.0L84.4 690.8L87.1 690.8L86.5 636.0L85.9 630.8L85.2 625.5L84.3 620.2L83.4 614.8L82.4 609.4L81.3 604.0L80.2 598.7L79.1 593.5L78.0 588.3L76.9 583.4L75.9 578.6L74.9 574.0L74.0 569.6L73.1 565.5L72.9 564.4L72.7 563.5L72.6 562.4L72.5 561.2Z" fill="#b7ae5f"/><path d="M71.8 561.2L71.9 562.4L72.0 563.5L72.2 564.4L72.4 565.5L73.3 569.6L74.2 574.0L75.2 578.6L76.2 583.4L77.3 588.3L78.4 593.5L79.5 598.7L80.6 604.0L81.7 609.4L82.7 614.8L83.6 620.2L84.5 625.5L85.2 630.8L85.8 636.0L86.4 690.8L89.1 690.8L88.5 636.0L88.0 630.8L87.3 625.5L86.5 620.2L85.6 614.8L84.6 609.4L83.6 604.0L82.6 598.7L81.5 593.5L80.5 588.3L79.4 583.4L78.4 578.6L77.5 574.0L76.6 569.6L75.8 565.5L75.6 564.4L75.4 563.5L75.3 562.4L75.2 561.2Z" fill="#bcb45d"/><path d="M74.5 561.2L74.6 562.4L74.7 563.5L74.9 564.4L75.1 565.5L75.9 569.6L76.8 574.0L77.7 578.6L78.7 583.4L79.8 588.3L80.8 593.5L81.9 598.7L82.9 604.0L83.9 609.4L84.9 614.8L85.8 620.2L86.6 625.5L87.3 630.8L87.8 636.0L88.4 690.8L91.1 690.8L90.6 636.0L90.0 630.8L89.4 625.5L88.6 620.2L87.8 614.8L86.8 609.4L85.9 604.0L84.9 598.7L83.9 593.5L82.9 588.3L81.9 583.4L81.0 578.6L80.1 574.0L79.3 569.6L78.5 565.5L78.3 564.4L78.1 563.5L78.0 562.4L77.9 561.2Z" fill="#b7af56"/><path d="M77.2 561.2L77.3 562.4L77.4 563.5L77.6 564.4L77.8 565.5L78.6 569.6L79.4 574.0L80.3 578.6L81.2 583.4L82.2 588.3L83.2 593.5L84.2 598.7L85.2 604.0L86.1 609.4L87.1 614.8L87.9 620.2L88.7 625.5L89.3 630.8L89.9 636.0L90.4 690.8L93.1 690.8L92.6 636.0L92.1 630.8L91.5 625.5L90.7 620.2L89.9 614.8L89.1 609.4L88.2 604.0L87.2 598.7L86.3 593.5L85.4 588.3L84.4 583.4L83.5 578.6L82.7 574.0L81.9 569.6L81.2 565.5L81.0 564.4L80.8 563.5L80.7 562.4L80.7 561.2Z" fill="#b2a94f"/><path d="M80.0 561.2L80.0 562.4L80.1 563.5L80.3 564.4L80.5 565.5L81.2 569.6L82.0 574.0L82.8 578.6L83.7 583.4L84.7 588.3L85.6 593.5L86.5 598.7L87.5 604.0L88.4 609.4L89.2 614.8L90.0 620.2L90.8 625.5L91.4 630.8L91.9 636.0L92.4 690.8L95.1 690.8L94.7 636.0L94.2 630.8L93.6 625.5L92.9 620.2L92.1 614.8L91.3 609.4L90.5 604.0L89.6 598.7L88.7 593.5L87.8 588.3L86.9 583.4L86.1 578.6L85.3 574.0L84.6 569.6L83.9 565.5L83.7 564.4L83.5 563.5L83.4 562.4L83.4 561.2Z" fill="#ada449"/><path d="M82.7 561.2L82.7 562.4L82.8 563.5L83.0 564.4L83.2 565.5L83.9 569.6L84.6 574.0L85.4 578.6L86.2 583.4L87.1 588.3L88.0 593.5L88.9 598.7L89.8 604.0L90.6 609.4L91.4 614.8L92.2 620.2L92.9 625.5L93.5 630.8L94.0 636.0L94.4 690.8L97.1 690.8L96.7 636.0L96.2 630.8L95.7 625.5L95.0 620.2L94.3 614.8L93.6 609.4L92.7 604.0L91.9 598.7L91.1 593.5L90.3 588.3L89.4 583.4L88.6 578.6L87.9 574.0L87.2 569.6L86.6 565.5L86.4 564.4L86.2 563.5L86.1 562.4L86.1 561.2Z" fill="#a89e42"/><path d="M85.4 561.2L85.4 562.4L85.5 563.5L85.7 564.4L85.9 565.5L86.5 569.6L87.2 574.0L87.9 578.6L88.7 583.4L89.6 588.3L90.4 593.5L91.2 598.7L92.0 604.0L92.9 609.4L93.6 614.8L94.3 620.2L95.0 625.5L95.5 630.8L96.0 636.0L96.4 690.8L99.1 690.8L98.7 636.0L98.3 630.8L97.8 625.5L97.2 620.2L96.5 614.8L95.8 609.4L95.0 604.0L94.3 598.7L93.5 593.5L92.7 588.3L91.9 583.4L91.2 578.6L90.5 574.0L89.9 569.6L89.3 565.5L89.1 564.4L89.0 563.5L88.9 562.4L88.8 561.2Z" fill="#a99f3f"/><path d="M88.1 561.2L88.2 562.4L88.3 563.5L88.4 564.4L88.6 565.5L89.2 569.6L89.8 574.0L90.5 578.6L91.2 583.4L92.0 588.3L92.8 593.5L93.6 598.7L94.3 604.0L95.1 609.4L95.8 614.8L96.5 620.2L97.1 625.5L97.6 630.8L98.0 636.0L98.4 690.8L101.2 690.8L100.8 636.0L100.4 630.8L99.9 625.5L99.3 620.2L98.7 614.8L98.0 609.4L97.3 604.0L96.6 598.7L95.9 593.5L95.1 588.3L94.4 583.4L93.7 578.6L93.1 574.0L92.5 569.6L92.0 565.5L91.8 564.4L91.7 563.5L91.6 562.4L91.5 561.2Z" fill="#b1a840"/><path d="M90.8 561.2L90.9 562.4L91.0 563.5L91.1 564.4L91.3 565.5L91.8 569.6L92.4 574.0L93.0 578.6L93.7 583.4L94.4 588.3L95.2 593.5L95.9 598.7L96.6 604.0L97.3 609.4L98.0 614.8L98.6 620.2L99.2 625.5L99.7 630.8L100.1 636.0L100.5 690.8L103.2 690.8L102.8 636.0L102.4 630.8L102.0 625.5L101.5 620.2L100.9 614.8L100.3 609.4L99.6 604.0L98.9 598.7L98.3 593.5L97.6 588.3L96.9 583.4L96.3 578.6L95.7 574.0L95.1 569.6L94.7 565.5L94.5 564.4L94.4 563.5L94.3 562.4L94.2 561.2Z" fill="#bab142"/><path d="M93.5 561.2L93.6 562.4L93.7 563.5L93.8 564.4L94.0 565.5L94.4 569.6L95.0 574.0L95.6 578.6L96.2 583.4L96.9 588.3L97.6 593.5L98.2 598.7L98.9 604.0L99.6 609.4L100.2 614.8L100.8 620.2L101.3 625.5L101.7 630.8L102.1 636.0L102.5 690.8L105.2 690.8L104.9 636.0L104.5 630.8L104.1 625.5L103.6 620.2L103.1 614.8L102.5 609.4L101.9 604.0L101.3 598.7L100.7 593.5L100.0 588.3L99.4 583.4L98.9 578.6L98.3 574.0L97.8 569.6L97.3 565.5L97.2 564.4L97.1 563.5L97.0 562.4L97.0 561.2Z" fill="#c2ba44"/><path d="M96.3 561.2L96.3 562.4L96.4 563.5L96.5 564.4L96.6 565.5L97.1 569.6L97.6 574.0L98.2 578.6L98.7 583.4L99.3 588.3L100.0 593.5L100.6 598.7L101.2 604.0L101.8 609.4L102.4 614.8L102.9 620.2L103.4 625.5L103.8 630.8L104.2 636.0L104.5 690.8L107.2 690.8L106.9 636.0L106.6 630.8L106.2 625.5L105.7 620.2L105.2 614.8L104.7 609.4L104.2 604.0L103.6 598.7L103.1 593.5L102.5 588.3L101.9 583.4L101.4 578.6L100.9 574.0L100.4 569.6L100.0 565.5L99.9 564.4L99.8 563.5L99.7 562.4L99.7 561.2Z" fill="#cbc446"/><path d="M99.0 561.2L99.0 562.4L99.1 563.5L99.2 564.4L99.3 565.5L99.7 569.6L100.2 574.0L100.7 578.6L101.2 583.4L101.8 588.3L102.4 593.5L102.9 598.7L103.5 604.0L104.0 609.4L104.5 614.8L105.0 620.2L105.5 625.5L105.9 630.8L106.2 636.0L106.5 690.8L109.2 690.8L108.9 636.0L108.6 630.8L108.3 625.5L107.9 620.2L107.4 614.8L107.0 609.4L106.5 604.0L106.0 598.7L105.5 593.5L104.9 588.3L104.4 583.4L104.0 578.6L103.5 574.0L103.1 569.6L102.7 565.5L102.6 564.4L102.5 563.5L102.4 562.4L102.4 561.2Z" fill="#d1ca47"/><path d="M101.7 561.2L101.7 562.4L101.8 563.5L101.9 564.4L102.0 565.5L102.4 569.6L102.8 574.0L103.3 578.6L103.7 583.4L104.2 588.3L104.8 593.5L105.3 598.7L105.8 604.0L106.3 609.4L106.7 614.8L107.2 620.2L107.6 625.5L107.9 630.8L108.2 636.0L108.5 690.8L111.2 690.8L111.0 636.0L110.7 630.8L110.4 625.5L110.0 620.2L109.6 614.8L109.2 609.4L108.8 604.0L108.3 598.7L107.8 593.5L107.4 588.3L106.9 583.4L106.5 578.6L106.1 574.0L105.7 569.6L105.4 565.5L105.3 564.4L105.2 563.5L105.2 562.4L105.1 561.2Z" fill="#d6d049"/><path d="M104.4 561.2L104.5 562.4L104.5 563.5L104.6 564.4L104.7 565.5L105.0 569.6L105.4 574.0L105.8 578.6L106.2 583.4L106.7 588.3L107.1 593.5L107.6 598.7L108.1 604.0L108.5 609.4L108.9 614.8L109.3 620.2L109.7 625.5L110.0 630.8L110.3 636.0L110.5 690.8L113.2 690.8L113.0 636.0L112.8 630.8L112.5 625.5L112.2 620.2L111.8 614.8L111.4 609.4L111.0 604.0L110.6 598.7L110.2 593.5L109.8 588.3L109.4 583.4L109.1 578.6L108.7 574.0L108.4 569.6L108.1 565.5L108.0 564.4L107.9 563.5L107.9 562.4L107.8 561.2Z" fill="#dbd64b"/><path d="M107.1 561.2L107.2 562.4L107.2 563.5L107.3 564.4L107.4 565.5L107.7 569.6L108.0 574.0L108.4 578.6L108.7 583.4L109.1 588.3L109.5 593.5L109.9 598.7L110.3 604.0L110.7 609.4L111.1 614.8L111.5 620.2L111.8 625.5L112.1 630.8L112.3 636.0L112.5 690.8L115.3 690.8L115.1 636.0L114.8 630.8L114.6 625.5L114.3 620.2L114.0 614.8L113.7 609.4L113.3 604.0L113.0 598.7L112.6 593.5L112.3 588.3L111.9 583.4L111.6 578.6L111.3 574.0L111.0 569.6L110.8 565.5L110.7 564.4L110.6 563.5L110.6 562.4L110.6 561.2Z" fill="#e1dc4d"/><path d="M109.9 561.2L109.9 562.4L109.9 563.5L110.0 564.4L110.1 565.5L110.3 569.6L110.6 574.0L110.9 578.6L111.2 583.4L111.6 588.3L111.9 593.5L112.3 598.7L112.6 604.0L113.0 609.4L113.3 614.8L113.6 620.2L113.9 625.5L114.1 630.8L114.4 636.0L114.6 690.8L117.3 690.8L117.1 636.0L116.9 630.8L116.7 625.5L116.4 620.2L116.2 614.8L115.9 609.4L115.6 604.0L115.3 598.7L115.0 593.5L114.7 588.3L114.4 583.4L114.2 578.6L113.9 574.0L113.7 569.6L113.5 565.5L113.4 564.4L113.3 563.5L113.3 562.4L113.3 561.2Z" fill="#e6e24f"/><path d="M112.6 561.2L112.6 562.4L112.6 563.5L112.7 564.4L112.8 565.5L113.0 569.6L113.2 574.0L113.5 578.6L113.7 583.4L114.0 588.3L114.3 593.5L114.6 598.7L114.9 604.0L115.2 609.4L115.5 614.8L115.7 620.2L116.0 625.5L116.2 630.8L116.4 636.0L116.6 690.8L119.3 690.8L119.1 636.0L119.0 630.8L118.8 625.5L118.6 620.2L118.4 614.8L118.1 609.4L117.9 604.0L117.7 598.7L117.4 593.5L117.2 588.3L117.0 583.4L116.7 578.6L116.5 574.0L116.3 569.6L116.2 565.5L116.1 564.4L116.1 563.5L116.0 562.4L116.0 561.2Z" fill="#e5e14f"/><path d="M115.3 561.2L115.3 562.4L115.4 563.5L115.4 564.4L115.5 565.5L115.6 569.6L115.8 574.0L116.0 578.6L116.3 583.4L116.5 588.3L116.7 593.5L117.0 598.7L117.2 604.0L117.4 609.4L117.7 614.8L117.9 620.2L118.1 625.5L118.3 630.8L118.4 636.0L118.6 690.8L121.3 690.8L121.2 636.0L121.1 630.8L120.9 625.5L120.7 620.2L120.6 614.8L120.4 609.4L120.2 604.0L120.0 598.7L119.8 593.5L119.6 588.3L119.5 583.4L119.3 578.6L119.1 574.0L119.0 569.6L118.8 565.5L118.8 564.4L118.8 563.5L118.7 562.4L118.7 561.2Z" fill="#dfdb4c"/><path d="M118.0 561.2L118.0 562.4L118.1 563.5L118.1 564.4L118.1 565.5L118.3 569.6L118.4 574.0L118.6 578.6L118.8 583.4L118.9 588.3L119.1 593.5L119.3 598.7L119.5 604.0L119.7 609.4L119.9 614.8L120.0 620.2L120.2 625.5L120.4 630.8L120.5 636.0L120.6 690.8L123.3 690.8L123.2 636.0L123.1 630.8L123.0 625.5L122.9 620.2L122.7 614.8L122.6 609.4L122.5 604.0L122.3 598.7L122.2 593.5L122.1 588.3L122.0 583.4L121.8 578.6L121.7 574.0L121.6 569.6L121.5 565.5L121.5 564.4L121.5 563.5L121.5 562.4L121.4 561.2Z" fill="#d9d549"/><path d="M120.7 561.2L120.8 562.4L120.8 563.5L120.8 564.4L120.8 565.5L120.9 569.6L121.0 574.0L121.1 578.6L121.3 583.4L121.4 588.3L121.5 593.5L121.6 598.7L121.8 604.0L121.9 609.4L122.0 614.8L122.2 620.2L122.3 625.5L122.4 630.8L122.5 636.0L122.6 690.8L125.3 690.8L125.3 636.0L125.2 630.8L125.1 625.5L125.0 620.2L124.9 614.8L124.8 609.4L124.8 604.0L124.7 598.7L124.6 593.5L124.5 588.3L124.5 583.4L124.4 578.6L124.3 574.0L124.3 569.6L124.2 565.5L124.2 564.4L124.2 563.5L124.2 562.4L124.2 561.2Z" fill="#d3cf47"/><path d="M123.5 561.2L123.5 562.4L123.5 563.5L123.5 564.4L123.5 565.5L123.6 569.6L123.6 574.0L123.7 578.6L123.8 583.4L123.8 588.3L123.9 593.5L124.0 598.7L124.1 604.0L124.1 609.4L124.2 614.8L124.3 620.2L124.4 625.5L124.5 630.8L124.6 636.0L124.6 690.8L127.3 690.8L127.3 636.0L127.3 630.8L127.2 625.5L127.2 620.2L127.1 614.8L127.1 609.4L127.1 604.0L127.0 598.7L127.0 593.5L127.0 588.3L127.0 583.4L126.9 578.6L126.9 574.0L126.9 569.6L126.9 565.5L126.9 564.4L126.9 563.5L126.9 562.4L126.9 561.2Z" fill="#cec944"/><path d="M126.2 561.2L126.2 562.4L126.2 563.5L126.2 564.4L126.2 565.5L126.2 569.6L126.2 574.0L126.2 578.6L126.3 583.4L126.3 588.3L126.3 593.5L126.3 598.7L126.4 604.0L126.4 609.4L126.4 614.8L126.5 620.2L126.5 625.5L126.6 630.8L126.6 636.0L126.6 690.8L129.3 690.8L129.3 636.0L129.3 630.8L129.3 625.5L129.3 620.2L129.3 614.8L129.3 609.4L129.3 604.0L129.4 598.7L129.4 593.5L129.4 588.3L129.5 583.4L129.5 578.6L129.5 574.0L129.6 569.6L129.6 565.5L129.6 564.4L129.6 563.5L129.6 562.4L129.6 561.2Z" fill="#d0cb45"/><path d="M128.9 561.2L128.9 562.4L128.9 563.5L128.9 564.4L128.9 565.5L128.9 569.6L128.8 574.0L128.8 578.6L128.8 583.4L128.7 588.3L128.7 593.5L128.7 598.7L128.6 604.0L128.6 609.4L128.6 614.8L128.6 620.2L128.6 625.5L128.6 630.8L128.6 636.0L128.7 690.8L131.4 690.8L131.4 636.0L131.4 630.8L131.4 625.5L131.4 620.2L131.5 614.8L131.6 609.4L131.6 604.0L131.7 598.7L131.8 593.5L131.9 588.3L132.0 583.4L132.0 578.6L132.1 574.0L132.2 569.6L132.3 565.5L132.3 564.4L132.3 563.5L132.3 562.4L132.3 561.2Z" fill="#d3ce45"/><path d="M131.6 561.2L131.6 562.4L131.6 563.5L131.6 564.4L131.6 565.5L131.5 569.6L131.4 574.0L131.3 578.6L131.3 583.4L131.2 588.3L131.1 593.5L131.0 598.7L130.9 604.0L130.9 609.4L130.8 614.8L130.7 620.2L130.7 625.5L130.7 630.8L130.7 636.0L130.7 690.8L133.4 690.8L133.4 636.0L133.5 630.8L133.5 625.5L133.6 620.2L133.7 614.8L133.8 609.4L133.9 604.0L134.0 598.7L134.2 593.5L134.3 588.3L134.5 583.4L134.6 578.6L134.7 574.0L134.9 569.6L135.0 565.5L135.0 564.4L135.0 563.5L135.0 562.4L135.0 561.2Z" fill="#d7d246"/><path d="M134.3 561.2L134.3 562.4L134.3 563.5L134.3 564.4L134.3 565.5L134.2 569.6L134.0 574.0L133.9 578.6L133.8 583.4L133.6 588.3L133.5 593.5L133.3 598.7L133.2 604.0L133.1 609.4L133.0 614.8L132.9 620.2L132.8 625.5L132.8 630.8L132.7 636.0L132.7 690.8L135.4 690.8L135.5 636.0L135.5 630.8L135.6 625.5L135.7 620.2L135.9 614.8L136.0 609.4L136.2 604.0L136.4 598.7L136.6 593.5L136.8 588.3L137.0 583.4L137.2 578.6L137.3 574.0L137.5 569.6L137.7 565.5L137.7 564.4L137.7 563.5L137.7 562.4L137.8 561.2Z" fill="#e0db4e"/><path d="M137.1 561.2L137.0 562.4L137.0 563.5L137.0 564.4L137.0 565.5L136.8 569.6L136.6 574.0L136.5 578.6L136.3 583.4L136.1 588.3L135.9 593.5L135.7 598.7L135.5 604.0L135.3 609.4L135.2 614.8L135.0 620.2L134.9 625.5L134.8 630.8L134.8 636.0L134.7 690.8L137.4 690.8L137.5 636.0L137.6 630.8L137.7 625.5L137.9 620.2L138.1 614.8L138.3 609.4L138.5 604.0L138.7 598.7L139.0 593.5L139.2 588.3L139.5 583.4L139.7 578.6L139.9 574.0L140.2 569.6L140.4 565.5L140.4 564.4L140.4 563.5L140.5 562.4L140.5 561.2Z" fill="#eae556"/><path d="M139.8 561.2L139.8 562.4L139.7 563.5L139.7 564.4L139.7 565.5L139.5 569.6L139.2 574.0L139.0 578.6L138.8 583.4L138.5 588.3L138.3 593.5L138.0 598.7L137.8 604.0L137.6 609.4L137.4 614.8L137.2 620.2L137.0 625.5L136.9 630.8L136.8 636.0L136.7 690.8L139.4 690.8L139.6 636.0L139.7 630.8L139.8 625.5L140.0 620.2L140.2 614.8L140.5 609.4L140.8 604.0L141.1 598.7L141.4 593.5L141.7 588.3L142.0 583.4L142.3 578.6L142.5 574.0L142.8 569.6L143.0 565.5L143.1 564.4L143.1 563.5L143.2 562.4L143.2 561.2Z" fill="#f4ef5e"/><path d="M142.5 561.2L142.5 562.4L142.4 563.5L142.4 564.4L142.3 565.5L142.1 569.6L141.8 574.0L141.6 578.6L141.3 583.4L141.0 588.3L140.7 593.5L140.4 598.7L140.1 604.0L139.8 609.4L139.5 614.8L139.3 620.2L139.1 625.5L139.0 630.8L138.9 636.0L138.7 690.8L141.4 690.8L141.6 636.0L141.7 630.8L141.9 625.5L142.2 620.2L142.4 614.8L142.7 609.4L143.1 604.0L143.4 598.7L143.8 593.5L144.1 588.3L144.5 583.4L144.8 578.6L145.1 574.0L145.5 569.6L145.7 565.5L145.8 564.4L145.9 563.5L145.9 562.4L145.9 561.2Z" fill="#f2ed5c"/><path d="M145.2 561.2L145.2 562.4L145.2 563.5L145.1 564.4L145.0 565.5L144.8 569.6L144.4 574.0L144.1 578.6L143.8 583.4L143.4 588.3L143.1 593.5L142.7 598.7L142.4 604.0L142.0 609.4L141.7 614.8L141.5 620.2L141.2 625.5L141.0 630.8L140.9 636.0L140.7 690.8L143.4 690.8L143.6 636.0L143.8 630.8L144.0 625.5L144.3 620.2L144.6 614.8L145.0 609.4L145.3 604.0L145.7 598.7L146.1 593.5L146.6 588.3L147.0 583.4L147.4 578.6L147.7 574.0L148.1 569.6L148.4 565.5L148.5 564.4L148.6 563.5L148.6 562.4L148.6 561.2Z" fill="#efea59"/><path d="M147.9 561.2L147.9 562.4L147.9 563.5L147.8 564.4L147.7 565.5L147.4 569.6L147.0 574.0L146.7 578.6L146.3 583.4L145.9 588.3L145.4 593.5L145.0 598.7L144.6 604.0L144.3 609.4L143.9 614.8L143.6 620.2L143.3 625.5L143.1 630.8L142.9 636.0L142.7 690.8L145.5 690.8L145.7 636.0L145.9 630.8L146.1 625.5L146.4 620.2L146.8 614.8L147.2 609.4L147.6 604.0L148.1 598.7L148.5 593.5L149.0 588.3L149.5 583.4L149.9 578.6L150.3 574.0L150.7 569.6L151.1 565.5L151.2 564.4L151.3 563.5L151.3 562.4L151.4 561.2Z" fill="#ece756"/><path d="M150.7 561.2L150.6 562.4L150.6 563.5L150.5 564.4L150.4 565.5L150.0 569.6L149.6 574.0L149.2 578.6L148.8 583.4L148.3 588.3L147.8 593.5L147.4 598.7L146.9 604.0L146.5 609.4L146.1 614.8L145.7 620.2L145.4 625.5L145.2 630.8L145.0 636.0L144.8 690.8L147.5 690.8L147.7 636.0L147.9 630.8L148.2 625.5L148.6 620.2L149.0 614.8L149.4 609.4L149.9 604.0L150.4 598.7L150.9 593.5L151.5 588.3L152.0 583.4L152.5 578.6L153.0 574.0L153.4 569.6L153.8 565.5L153.9 564.4L154.0 563.5L154.0 562.4L154.1 561.2Z" fill="#e7e154"/><path d="M153.4 561.2L153.3 562.4L153.3 563.5L153.2 564.4L153.1 565.5L152.7 569.6L152.3 574.0L151.8 578.6L151.3 583.4L150.8 588.3L150.2 593.5L149.7 598.7L149.2 604.0L148.7 609.4L148.3 614.8L147.9 620.2L147.5 625.5L147.2 630.8L147.0 636.0L146.8 690.8L149.5 690.8L149.8 636.0L150.0 630.8L150.3 625.5L150.7 620.2L151.2 614.8L151.7 609.4L152.2 604.0L152.8 598.7L153.3 593.5L153.9 588.3L154.5 583.4L155.0 578.6L155.6 574.0L156.0 569.6L156.5 565.5L156.6 564.4L156.7 563.5L156.8 562.4L156.8 561.2Z" fill="#ddd751"/><path d="M156.1 561.2L156.1 562.4L156.0 563.5L155.9 564.4L155.8 565.5L155.3 569.6L154.9 574.0L154.3 578.6L153.8 583.4L153.2 588.3L152.6 593.5L152.1 598.7L151.5 604.0L151.0 609.4L150.5 614.8L150.0 620.2L149.6 625.5L149.3 630.8L149.1 636.0L148.8 690.8L151.5 690.8L151.8 636.0L152.1 630.8L152.4 625.5L152.9 620.2L153.4 614.8L153.9 609.4L154.5 604.0L155.1 598.7L155.7 593.5L156.4 588.3L157.0 583.4L157.6 578.6L158.2 574.0L158.7 569.6L159.2 565.5L159.3 564.4L159.4 563.5L159.5 562.4L159.5 561.2Z" fill="#d4cd4f"/><path d="M158.8 561.2L158.8 562.4L158.7 563.5L158.6 564.4L158.5 565.5L158.0 569.6L157.5 574.0L156.9 578.6L156.3 583.4L155.7 588.3L155.0 593.5L154.4 598.7L153.8 604.0L153.2 609.4L152.7 614.8L152.2 620.2L151.7 625.5L151.4 630.8L151.1 636.0L150.8 690.8L153.5 690.8L153.8 636.0L154.1 630.8L154.5 625.5L155.0 620.2L155.6 614.8L156.1 609.4L156.8 604.0L157.4 598.7L158.1 593.5L158.8 588.3L159.5 583.4L160.1 578.6L160.8 574.0L161.3 569.6L161.9 565.5L162.0 564.4L162.1 563.5L162.2 562.4L162.2 561.2Z" fill="#cbc44c"/><path d="M161.5 561.2L161.5 562.4L161.4 563.5L161.3 564.4L161.2 565.5L160.6 569.6L160.1 574.0L159.4 578.6L158.8 583.4L158.1 588.3L157.4 593.5L156.7 598.7L156.1 604.0L155.4 609.4L154.9 614.8L154.3 620.2L153.8 625.5L153.4 630.8L153.1 636.0L152.8 690.8L155.5 690.8L155.9 636.0L156.2 630.8L156.6 625.5L157.2 620.2L157.7 614.8L158.4 609.4L159.1 604.0L159.8 598.7L160.5 593.5L161.3 588.3L162.0 583.4L162.7 578.6L163.4 574.0L164.0 569.6L164.6 565.5L164.7 564.4L164.8 563.5L164.9 562.4L164.9 561.2Z" fill="#c5bd4b"/><path d="M164.2 561.2L164.2 562.4L164.1 563.5L164.0 564.4L163.9 565.5L163.3 569.6L162.7 574.0L162.0 578.6L161.3 583.4L160.6 588.3L159.8 593.5L159.1 598.7L158.4 604.0L157.7 609.4L157.0 614.8L156.5 620.2L155.9 625.5L155.5 630.8L155.2 636.0L154.8 690.8L157.5 690.8L157.9 636.0L158.3 630.8L158.7 625.5L159.3 620.2L159.9 614.8L160.6 609.4L161.4 604.0L162.1 598.7L162.9 593.5L163.7 588.3L164.5 583.4L165.2 578.6L166.0 574.0L166.6 569.6L167.2 565.5L167.4 564.4L167.5 563.5L167.6 562.4L167.7 561.2Z" fill="#c0b74a"/><path d="M167.0 561.2L166.9 562.4L166.8 563.5L166.7 564.4L166.5 565.5L165.9 569.6L165.3 574.0L164.5 578.6L163.8 583.4L163.0 588.3L162.2 593.5L161.4 598.7L160.7 604.0L159.9 609.4L159.2 614.8L158.6 620.2L158.0 625.5L157.6 630.8L157.2 636.0L156.8 690.8L159.6 690.8L160.0 636.0L160.3 630.8L160.8 625.5L161.4 620.2L162.1 614.8L162.9 609.4L163.6 604.0L164.5 598.7L165.3 593.5L166.1 588.3L167.0 583.4L167.8 578.6L168.6 574.0L169.3 569.6L169.9 565.5L170.1 564.4L170.2 563.5L170.3 562.4L170.4 561.2Z" fill="#bbb249"/><path d="M169.7 561.2L169.6 562.4L169.5 563.5L169.4 564.4L169.2 565.5L168.6 569.6L167.9 574.0L167.1 578.6L166.3 583.4L165.4 588.3L164.6 593.5L163.8 598.7L162.9 604.0L162.2 609.4L161.4 614.8L160.7 620.2L160.1 625.5L159.6 630.8L159.3 636.0L158.9 690.8L161.6 690.8L162.0 636.0L162.4 630.8L163.0 625.5L163.6 620.2L164.3 614.8L165.1 609.4L165.9 604.0L166.8 598.7L167.7 593.5L168.6 588.3L169.5 583.4L170.3 578.6L171.2 574.0L171.9 569.6L172.6 565.5L172.8 564.4L173.0 563.5L173.1 562.4L173.1 561.2Z" fill="#b6ad49"/><path d="M172.4 561.2L172.4 562.4L172.3 563.5L172.1 564.4L171.9 565.5L171.2 569.6L170.5 574.0L169.6 578.6L168.8 583.4L167.9 588.3L167.0 593.5L166.1 598.7L165.2 604.0L164.4 609.4L163.6 614.8L162.9 620.2L162.3 625.5L161.7 630.8L161.3 636.0L160.9 690.8L163.6 690.8L164.0 636.0L164.5 630.8L165.1 625.5L165.7 620.2L166.5 614.8L167.3 609.4L168.2 604.0L169.1 598.7L170.1 593.5L171.0 588.3L172.0 583.4L172.9 578.6L173.8 574.0L174.6 569.6L175.3 565.5L175.5 564.4L175.7 563.5L175.8 562.4L175.8 561.2Z" fill="#b1a848"/><path d="M175.1 561.2L175.1 562.4L175.0 563.5L174.8 564.4L174.6 565.5L173.9 569.6L173.1 574.0L172.2 578.6L171.3 583.4L170.3 588.3L169.4 593.5L168.4 598.7L167.5 604.0L166.6 609.4L165.8 614.8L165.0 620.2L164.4 625.5L163.8 630.8L163.3 636.0L162.9 690.8L165.6 690.8L166.1 636.0L166.6 630.8L167.2 625.5L167.9 620.2L168.7 614.8L169.6 609.4L170.5 604.0L171.5 598.7L172.5 593.5L173.5 588.3L174.5 583.4L175.5 578.6L176.4 574.0L177.2 569.6L178.0 565.5L178.2 564.4L178.4 563.5L178.5 562.4L178.5 561.2Z" fill="#aea448"/><path d="M177.8 561.2L177.8 562.4L177.7 563.5L177.5 564.4L177.3 565.5L176.5 569.6L175.7 574.0L174.8 578.6L173.8 583.4L172.8 588.3L171.8 593.5L170.8 598.7L169.8 604.0L168.9 609.4L168.0 614.8L167.2 620.2L166.5 625.5L165.9 630.8L165.4 636.0L164.9 690.8L167.6 690.8L168.1 636.0L168.6 630.8L169.3 625.5L170.0 620.2L170.9 614.8L171.8 609.4L172.8 604.0L173.8 598.7L174.9 593.5L175.9 588.3L177.0 583.4L178.0 578.6L179.0 574.0L179.9 569.6L180.7 565.5L180.9 564.4L181.1 563.5L181.2 562.4L181.3 561.2Z" fill="#ada348"/><path d="M180.6 561.2L180.5 562.4L180.4 563.5L180.2 564.4L180.0 565.5L179.2 569.6L178.3 574.0L177.3 578.6L176.3 583.4L175.2 588.3L174.2 593.5L173.1 598.7L172.1 604.0L171.1 609.4L170.2 614.8L169.3 620.2L168.6 625.5L167.9 630.8L167.4 636.0L166.9 690.8L169.6 690.8L170.2 636.0L170.7 630.8L171.4 625.5L172.2 620.2L173.1 614.8L174.0 609.4L175.1 604.0L176.2 598.7L177.3 593.5L178.4 588.3L179.5 583.4L180.6 578.6L181.6 574.0L182.5 569.6L183.4 565.5L183.6 564.4L183.8 563.5L183.9 562.4L184.0 561.2Z" fill="#aca248"/><path d="M183.3 561.2L183.2 562.4L183.1 563.5L182.9 564.4L182.7 565.5L181.8 569.6L180.9 574.0L179.9 578.6L178.8 583.4L177.7 588.3L176.6 593.5L175.5 598.7L174.4 604.0L173.3 609.4L172.4 614.8L171.5 620.2L170.7 625.5L170.0 630.8L169.5 636.0L168.9 690.8L171.6 690.8L172.2 636.0L172.8 630.8L173.5 625.5L174.3 620.2L175.2 614.8L176.3 609.4L177.4 604.0L178.5 598.7L179.7 593.5L180.8 588.3L182.0 583.4L183.1 578.6L184.2 574.0L185.2 569.6L186.1 565.5L186.3 564.4L186.5 563.5L186.6 562.4L186.7 561.2Z" fill="#aaa048"/><path d="M186.0 561.2L185.9 562.4L185.8 563.5L185.6 564.4L185.4 565.5L184.5 569.6L183.5 574.0L182.4 578.6L181.3 583.4L180.1 588.3L179.0 593.5L177.8 598.7L176.7 604.0L175.6 609.4L174.5 614.8L173.6 620.2L172.8 625.5L172.1 630.8L171.5 636.0L170.9 690.8L173.6 690.8L174.2 636.0L174.8 630.8L175.6 625.5L176.4 620.2L177.4 614.8L178.5 609.4L179.6 604.0L180.8 598.7L182.1 593.5L183.3 588.3L184.5 583.4L185.7 578.6L186.8 574.0L187.8 569.6L188.7 565.5L189.0 564.4L189.2 563.5L189.4 562.4L189.4 561.2Z" fill="#95893e"/><path d="M188.7 561.2L188.7 562.4L188.5 563.5L188.3 564.4L188.0 565.5L187.1 569.6L186.1 574.0L185.0 578.6L183.8 583.4L182.6 588.3L181.4 593.5L180.1 598.7L178.9 604.0L177.8 609.4L176.7 614.8L175.7 620.2L174.9 625.5L174.1 630.8L173.5 636.0L172.9 690.8L175.7 690.8L176.3 636.0L176.9 630.8L177.7 625.5L178.6 620.2L179.6 614.8L180.7 609.4L181.9 604.0L183.2 598.7L184.5 593.5L185.7 588.3L187.0 583.4L188.2 578.6L189.4 574.0L190.5 569.6L191.4 565.5L191.7 564.4L191.9 563.5L192.1 562.4L192.1 561.2Z" fill="#77682f"/><path d="M191.4 561.2L191.4 562.4L191.2 563.5L191.0 564.4L190.7 565.5L189.8 569.6L188.7 574.0L187.5 578.6L186.3 583.4L185.0 588.3L183.8 593.5L182.5 598.7L181.2 604.0L180.0 609.4L178.9 614.8L177.9 620.2L177.0 625.5L176.2 630.8L175.6 636.0L175.0 690.8L177.7 690.8L178.3 636.0L179.0 630.8L179.8 625.5L180.7 620.2L181.8 614.8L183.0 609.4L184.2 604.0L185.5 598.7L186.8 593.5L188.2 588.3L189.5 583.4L190.8 578.6L192.0 574.0L193.1 569.6L194.1 565.5L194.4 564.4L194.6 563.5L194.8 562.4L194.9 561.2Z" fill="#726331"/><path d="M194.2 561.2L194.1 562.4L193.9 563.5L193.7 564.4L193.4 565.5L192.4 569.6L191.3 574.0L190.1 578.6L188.8 583.4L187.5 588.3L186.1 593.5L184.8 598.7L183.5 604.0L182.3 609.4L181.1 614.8L180.0 620.2L179.1 625.5L178.3 630.8L177.6 636.0L177.0 690.8L179.7 690.8L180.4 636.0L181.0 630.8L181.9 625.5L182.9 620.2L184.0 614.8L185.2 609.4L186.5 604.0L187.9 598.7L189.2 593.5L190.6 588.3L192.0 583.4L193.3 578.6L194.6 574.0L195.8 569.6L196.8 565.5L197.1 564.4L197.3 563.5L197.5 562.4L197.6 561.2Z" fill="#706135"/><path d="M196.9 561.2L196.8 562.4L196.6 563.5L196.4 564.4L196.1 565.5L195.1 569.6L193.9 574.0L192.6 578.6L191.3 583.4L189.9 588.3L188.5 593.5L187.2 598.7L185.8 604.0L184.5 609.4L183.3 614.8L182.2 620.2L181.2 625.5L180.3 630.8L179.7 636.0L179.0 690.8L181.0 690.8L181.7 636.0L182.4 630.8L183.3 625.5L184.3 620.2L185.5 614.8L186.7 609.4L188.1 604.0L189.5 598.7L190.9 593.5L192.4 588.3L193.8 583.4L195.2 578.6L196.5 574.0L197.7 569.6L198.8 565.5L199.1 564.4L199.3 563.5L199.5 562.4L199.6 561.2Z" fill="#6f603a"/><clipPath id="cb"><path d="M58.2 561.2L58.3 562.4L58.5 563.5L58.7 564.4L59.0 565.5L60.0 569.6L61.2 574.0L62.4 578.6L63.7 583.4L65.1 588.3L66.4 593.5L67.8 598.7L69.2 604.0L70.5 609.4L71.7 614.8L72.9 620.2L73.9 625.5L74.8 630.8L75.6 636.0L76.3 690.8L181.0 690.8L181.7 636.0L182.4 630.8L183.3 625.5L184.3 620.2L185.5 614.8L186.7 609.4L188.1 604.0L189.5 598.7L190.9 593.5L192.4 588.3L193.8 583.4L195.2 578.6L196.5 574.0L197.7 569.6L198.8 565.5L199.1 564.4L199.3 563.5L199.5 562.4L199.6 561.2Z"/></clipPath><g clip-path="url(#cb)"><rect x="56" y="561.2" width="146" height="2.2" fill="#d8d258" opacity="0.6"/><rect x="56" y="563.2" width="146" height="3" fill="#6a5e18" opacity="0.25"/><clipPath id="cbl"><rect x="50" y="555" width="88.3" height="140"/></clipPath><g clip-path="url(#cbl)"><path d="M88 560H142V640C128 620 102 596 88 560Z" fill="url(#gw)" filter="url(#b4)"/></g><rect x="138.3" y="563" width="5" height="60" fill="#f4f062" opacity="0.35" filter="url(#b1)"/><ellipse cx="80" cy="600" rx="5" ry="26" fill="#f0ec98" opacity="0.45" filter="url(#b2)"/></g><g transform="translate(640,360)"><use href="#up"/><use href="#sc"/></g><rect x="626.3" y="608" width="108.1" height="37" fill="#fde9d4" style="mix-blend-mode:multiply"/><rect x="626.3" y="608" width="108.1" height="3.7" fill="#f08a10" fill-opacity="0.16"/><path d="M633 629.3H727" stroke="#f15a29" stroke-width="1.6" fill="none"/><path d="M626.8 629.3L638.2 624.4L636.6 629.3L638.2 634.2Z" fill="#f15a29"/><path d="M733.8 629.3L722.4 624.4L724 629.3L722.4 634.2Z" fill="#f15a29"/><g transform="translate(908,360)"><use href="#up"/><use href="#sc"/></g><rect x="878.4" y="553.4" width="136.5" height="36.7" fill="#e7f3da" style="mix-blend-mode:multiply"/><path d="M888 571.9H1005" stroke="#1aa250" stroke-width="2.1" fill="none"/><path d="M880.6 571.9L892.2 567.1L889.6 571.9L892.2 576.7Z" fill="#1aa250"/><path d="M1012.6 571.9L1001 567.1L1003.6 571.9L1001 576.7Z" fill="#1aa250"/><rect x="1200" y="571.1" width="176" height="40.9" fill="#fff4d4"/><g transform="translate(1124.3,360)" clip-path="url(#c4)"><use href="#up"/><use href="#sc"/></g><path d="M1282.2 578L1281.6 605" stroke="#b8a01e" stroke-width="1.7" fill="none"/><path d="M1282.2 571.7L1277.1 582.9L1282.2 580.9L1287.3 582.9Z" fill="#b8a01e"/><path d="M1281.6 611.7L1276.5 600.3L1281.6 602.3L1286.7 600.3Z" fill="#b8a01e"/></svg>
<svg width="1400" height="718" viewBox="0 0 1400 718" font-family="Liberation Sans, sans-serif" style="font-family:'Liberation Sans',sans-serif;text-rendering:geometricPrecision">
<text transform="translate(67.53,77.00) scale(0.9678,1)" font-size="22" font-weight="700" fill="#002060" stroke="#002060" stroke-width="0.35">Loại trụ đỡ</text>
<text transform="translate(297.18,77.00) scale(1.0097,1)" font-size="22" font-weight="700" fill="#002060" stroke="#002060" stroke-width="0.35">Mã implant tương</text>
<text transform="translate(366.10,106.30) scale(0.9555,1)" font-size="22" font-weight="700" fill="#002060" stroke="#002060" stroke-width="0.35">thích</text>
<text transform="translate(580.92,68.80) scale(0.9665,1)" font-size="22" font-weight="700" fill="#ed7d31" stroke="#ed7d31" stroke-width="0.35">Đường kính trụ đỡ</text>
<text transform="translate(584.77,124.50) scale(0.9315,1)" font-size="19.5" font-weight="700" fill="#f4b183">Chiều rộng trụ đỡ cơ</text>
<text transform="translate(659.56,149.60) scale(0.9775,1)" font-size="19.5" font-weight="700" fill="#f4b183">bản</text>
<text transform="translate(850.42,64.30) scale(0.9702,1)" font-size="22" font-weight="700" fill="#00b050" stroke="#00b050" stroke-width="0.35">Đường kính mặt kế</text>
<text transform="translate(931.74,93.50) scale(1.0039,1)" font-size="22" font-weight="700" fill="#00b050" stroke="#00b050" stroke-width="0.35">nối</text>
<text transform="translate(862.56,119.60) scale(0.9511,1)" font-size="18.5" font-weight="700" fill="#548235" stroke="#548235" stroke-width="0.35">Có sẵn Rộng và Hẹp</text>
<text transform="translate(1146.64,68.30) scale(0.9365,1)" font-size="22" font-weight="700" fill="#7f6000" stroke="#7f6000" stroke-width="0.35">Chiều cao cổ áo</text>
<text transform="translate(1098.69,124.00) scale(0.9877,1)" font-size="19" font-weight="700" fill="#bf9000" stroke="#bf9000" stroke-width="0.35">Thay đổi từ 1.5mm đến 5mm</text>
<text transform="translate(1137.07,148.50) scale(0.9873,1)" font-size="19" font-weight="700" fill="#f4b183">tùy theo loại impant</text>
<text transform="translate(1091.08,299.50) scale(0.9905,1)" font-size="18.5" font-weight="400" fill="#bf9000">Chú ý: SIB dùng cho IT có cổ áo</text>
<text transform="translate(1098.49,324.00) scale(1.0510,1)" font-size="18.5" font-weight="400" fill="#bf9000">là 0mm tùy thuộc vào cấp độ</text>
<text transform="translate(1208.38,349.00) scale(1.1402,1)" font-size="18.5" font-weight="400" fill="#bf9000">mô</text>
<text transform="translate(290.40,423.40) scale(0.9024,1)" font-size="23" font-weight="700" fill="#1f3f7a">EX</text>
<text transform="translate(287.54,465.60) scale(1.0048,1)" font-size="23" font-weight="700" fill="#1f3f7a">DC</text>
<text transform="translate(293.90,506.85) scale(1.0932,1)" font-size="23" font-weight="700" fill="#1f3f7a">M</text>
<text transform="translate(291.20,547.80) scale(0.8627,1)" font-size="23" font-weight="700" fill="#1f3f7a">SP</text>
<text transform="translate(293.33,589.60) scale(0.7517,1)" font-size="23" font-weight="700" fill="#1f3f7a">EL</text>
<text transform="translate(267.48,630.60) scale(0.9791,1)" font-size="23" font-weight="700" fill="#1f3f7a">ITS/IT6</text>
<text transform="translate(356.72,423.40) scale(0.9885,1)" font-size="23" font-weight="400" fill="#38548a">External Hex</text>
<text transform="translate(356.52,465.70) scale(1.0983,1)" font-size="23" font-weight="400" fill="#38548a">Deep Conical</text>
<text transform="translate(356.43,506.90) scale(1.0205,1)" font-size="23" font-weight="400" fill="#38548a">Internal Hex</text>
<text transform="translate(356.95,547.80) scale(1.0182,1)" font-size="23" font-weight="400" fill="#38548a">Single Platform</text>
<text transform="translate(355.67,630.60) scale(1.0957,1)" font-size="23" font-weight="400" fill="#38548a">Internal Octagon</text>
<text transform="translate(357.58,589.60) scale(0.8190,1)" font-size="23" font-weight="400" fill="#38548a">TRI-NEX</text>
<text transform="translate(434.29,581.80) scale(1.1896,1)" font-size="12" font-weight="400" fill="#3a568b">®</text>
<text transform="translate(258.23,674.00) scale(1.0440,1)" font-size="20.5" font-weight="400" fill="#b3babe">Note: The ’N’ in the product code</text>
<text transform="translate(258.50,691.40) scale(1.0827,1)" font-size="20.5" font-weight="400" fill="#b3babe">indicate a non-engaging variant.</text>
</svg>
<div class="t" style="left:65.81px;top:186.42px;font-size:86px;font-weight:700;color:#000;-webkit-text-stroke:3.4px #000;transform:scale(0.7831,1.0055);">S</div>
<div class="t" style="left:111.24px;top:184.49px;font-size:86px;font-weight:700;color:#000;transform:scale(1.0445,1.0537);">I</div>
<div class="t" style="left:138.48px;top:186.69px;font-size:86px;font-weight:700;color:#000;-webkit-text-stroke:3.0px #000;transform:scale(0.7934,1.0028);">B</div>
<div class="t" style="left:629.99px;top:183.66px;font-size:86px;font-weight:700;color:#f15a29;transform:scale(1.0409,1.0645);">34</div>
<div class="t" style="left:896.62px;top:181.29px;font-size:86px;font-weight:700;color:#00a651;transform:scale(1.0685,1.0547);">43</div>
<svg width="1400" height="718" viewBox="0 0 1400 718">
<g fill="#1b4075"><path d="M346.9 199H382V209.7H359.1V224.1H381.4V234.8H359.1V250.2H382V260.9H346.9Z"/><path d="M388.9 199H403.3L443.8 260.9H429.3Z"/><path d="M428 199H441.8L400.8 260.9H386.7Z"/></g>
<g fill="#b99d1f"><path fill-rule="evenodd" d="M1130.25 230a32.25 32.25 0 1 0 64.5 0a32.25 32.25 0 1 0 -64.5 0ZM1142.0 230a20.5 20.5 0 1 0 41.0 0a20.5 20.5 0 1 0 -41.0 0Z"/><path fill="#fff4d4" d="M1176 221.4L1196 219.6V240.9L1176 239.4Z"/><path d="M1205.8 198.95H1229.5V261H1217.2V209.75H1205.8Z"/><rect x="1253.9" y="248.75" width="11.9" height="12.25"/><path d="M1283.2 198.95H1316V209.75H1291.6L1288.2 235.6L1277.3 232.9Z"/></g>
<path d="M1283.49 231.75A17.5 16 0 1 1 1280.88 244.03" fill="none" stroke="#b99d1f" stroke-width="11"/>
</svg>
</body></html>
